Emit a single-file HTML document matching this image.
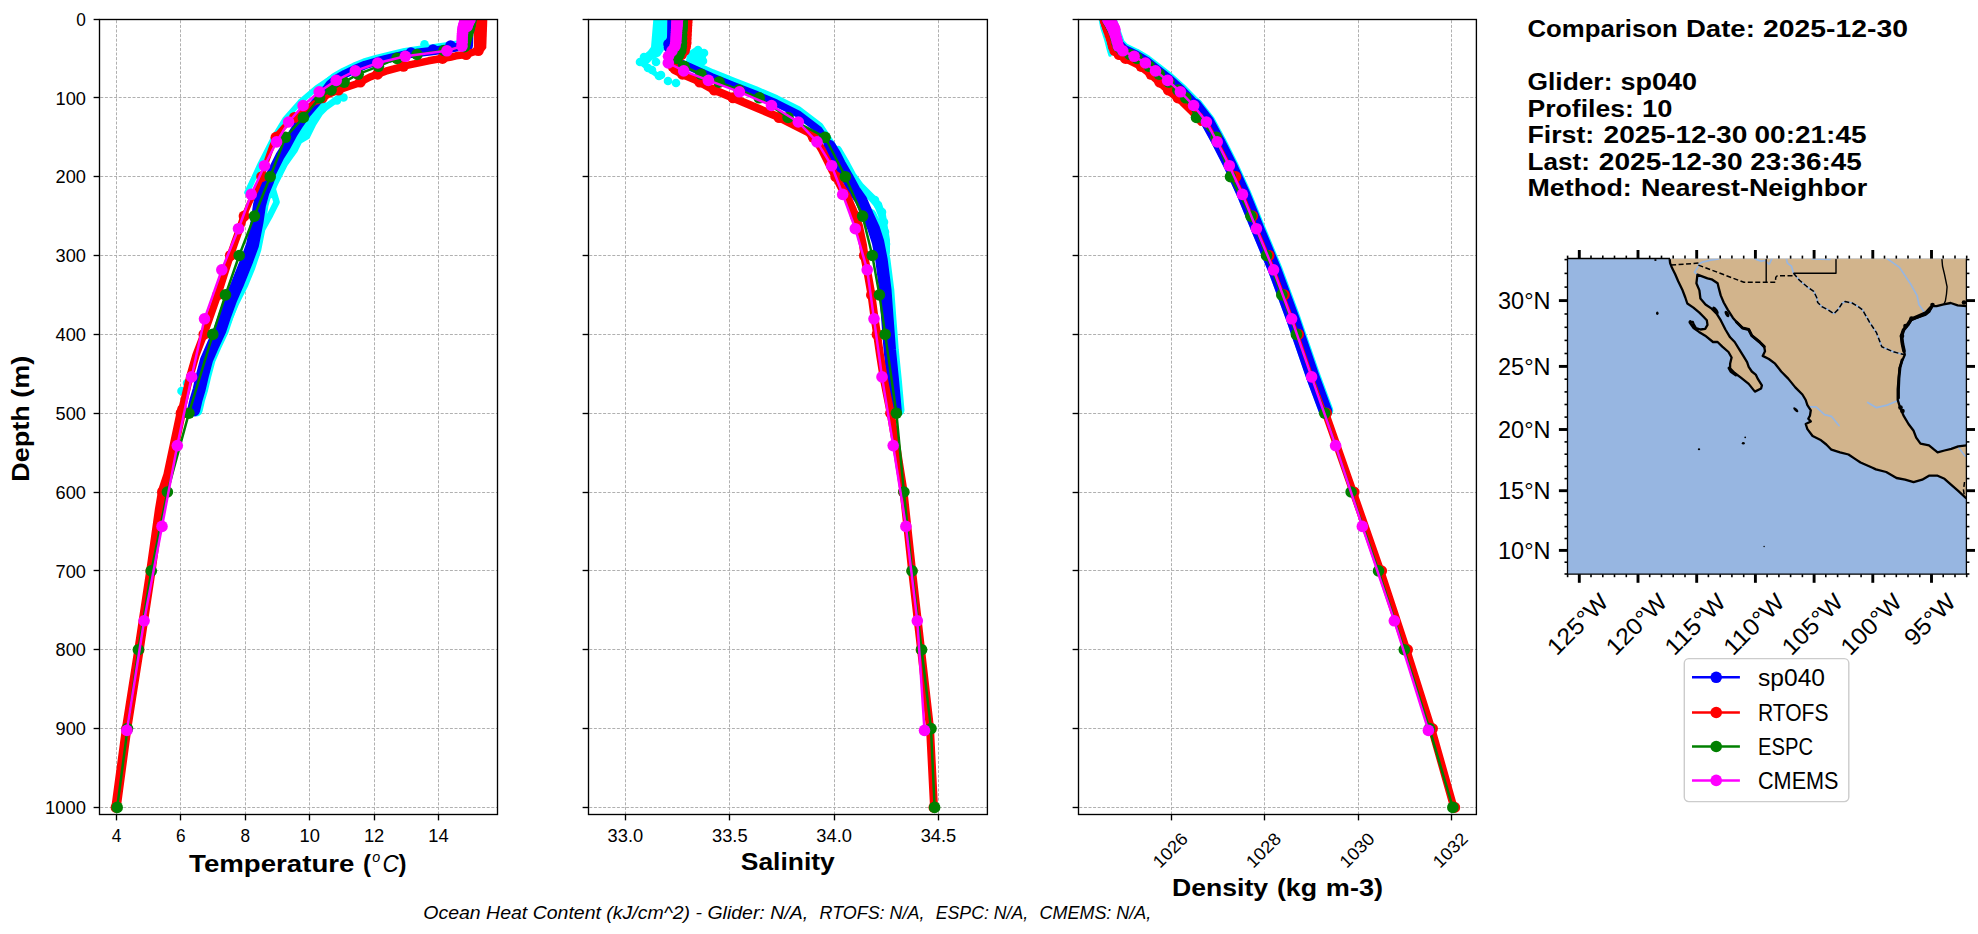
<!DOCTYPE html>
<html><head><meta charset="utf-8"><title>Glider comparison</title>
<style>html,body{margin:0;padding:0;background:#fff;overflow:hidden}svg{display:block}</style></head>
<body><svg width="1978" height="934" viewBox="0 0 1978 934"><defs><clipPath id="clip0"><rect x="99.5" y="19.5" width="398.0" height="795.0"/></clipPath><clipPath id="clip1"><rect x="588.5" y="19.5" width="398.9" height="795.0"/></clipPath><clipPath id="clip2"><rect x="1078.5" y="19.5" width="397.9" height="795.0"/></clipPath></defs>
<rect width="100%" height="100%" fill="#fff"/>
<line x1="116.5" y1="20.3" x2="116.5" y2="814.5" stroke="#b0b0b0" stroke-width="1" stroke-dasharray="3.0,1.6"/>
<line x1="180.5" y1="20.3" x2="180.5" y2="814.5" stroke="#b0b0b0" stroke-width="1" stroke-dasharray="3.0,1.6"/>
<line x1="245.5" y1="20.3" x2="245.5" y2="814.5" stroke="#b0b0b0" stroke-width="1" stroke-dasharray="3.0,1.6"/>
<line x1="309.5" y1="20.3" x2="309.5" y2="814.5" stroke="#b0b0b0" stroke-width="1" stroke-dasharray="3.0,1.6"/>
<line x1="374.5" y1="20.3" x2="374.5" y2="814.5" stroke="#b0b0b0" stroke-width="1" stroke-dasharray="3.0,1.6"/>
<line x1="438.5" y1="20.3" x2="438.5" y2="814.5" stroke="#b0b0b0" stroke-width="1" stroke-dasharray="3.0,1.6"/>
<line x1="100.3" y1="19.5" x2="497.5" y2="19.5" stroke="#b0b0b0" stroke-width="1" stroke-dasharray="3.0,1.6"/>
<line x1="100.3" y1="97.5" x2="497.5" y2="97.5" stroke="#b0b0b0" stroke-width="1" stroke-dasharray="3.0,1.6"/>
<line x1="100.3" y1="176.5" x2="497.5" y2="176.5" stroke="#b0b0b0" stroke-width="1" stroke-dasharray="3.0,1.6"/>
<line x1="100.3" y1="255.5" x2="497.5" y2="255.5" stroke="#b0b0b0" stroke-width="1" stroke-dasharray="3.0,1.6"/>
<line x1="100.3" y1="334.5" x2="497.5" y2="334.5" stroke="#b0b0b0" stroke-width="1" stroke-dasharray="3.0,1.6"/>
<line x1="100.3" y1="413.5" x2="497.5" y2="413.5" stroke="#b0b0b0" stroke-width="1" stroke-dasharray="3.0,1.6"/>
<line x1="100.3" y1="492.5" x2="497.5" y2="492.5" stroke="#b0b0b0" stroke-width="1" stroke-dasharray="3.0,1.6"/>
<line x1="100.3" y1="570.5" x2="497.5" y2="570.5" stroke="#b0b0b0" stroke-width="1" stroke-dasharray="3.0,1.6"/>
<line x1="100.3" y1="649.5" x2="497.5" y2="649.5" stroke="#b0b0b0" stroke-width="1" stroke-dasharray="3.0,1.6"/>
<line x1="100.3" y1="728.5" x2="497.5" y2="728.5" stroke="#b0b0b0" stroke-width="1" stroke-dasharray="3.0,1.6"/>
<line x1="100.3" y1="807.5" x2="497.5" y2="807.5" stroke="#b0b0b0" stroke-width="1" stroke-dasharray="3.0,1.6"/>
<line x1="625.5" y1="20.3" x2="625.5" y2="814.5" stroke="#b0b0b0" stroke-width="1" stroke-dasharray="3.0,1.6"/>
<line x1="729.5" y1="20.3" x2="729.5" y2="814.5" stroke="#b0b0b0" stroke-width="1" stroke-dasharray="3.0,1.6"/>
<line x1="834.5" y1="20.3" x2="834.5" y2="814.5" stroke="#b0b0b0" stroke-width="1" stroke-dasharray="3.0,1.6"/>
<line x1="938.5" y1="20.3" x2="938.5" y2="814.5" stroke="#b0b0b0" stroke-width="1" stroke-dasharray="3.0,1.6"/>
<line x1="589.3" y1="19.5" x2="987.4" y2="19.5" stroke="#b0b0b0" stroke-width="1" stroke-dasharray="3.0,1.6"/>
<line x1="589.3" y1="97.5" x2="987.4" y2="97.5" stroke="#b0b0b0" stroke-width="1" stroke-dasharray="3.0,1.6"/>
<line x1="589.3" y1="176.5" x2="987.4" y2="176.5" stroke="#b0b0b0" stroke-width="1" stroke-dasharray="3.0,1.6"/>
<line x1="589.3" y1="255.5" x2="987.4" y2="255.5" stroke="#b0b0b0" stroke-width="1" stroke-dasharray="3.0,1.6"/>
<line x1="589.3" y1="334.5" x2="987.4" y2="334.5" stroke="#b0b0b0" stroke-width="1" stroke-dasharray="3.0,1.6"/>
<line x1="589.3" y1="413.5" x2="987.4" y2="413.5" stroke="#b0b0b0" stroke-width="1" stroke-dasharray="3.0,1.6"/>
<line x1="589.3" y1="492.5" x2="987.4" y2="492.5" stroke="#b0b0b0" stroke-width="1" stroke-dasharray="3.0,1.6"/>
<line x1="589.3" y1="570.5" x2="987.4" y2="570.5" stroke="#b0b0b0" stroke-width="1" stroke-dasharray="3.0,1.6"/>
<line x1="589.3" y1="649.5" x2="987.4" y2="649.5" stroke="#b0b0b0" stroke-width="1" stroke-dasharray="3.0,1.6"/>
<line x1="589.3" y1="728.5" x2="987.4" y2="728.5" stroke="#b0b0b0" stroke-width="1" stroke-dasharray="3.0,1.6"/>
<line x1="589.3" y1="807.5" x2="987.4" y2="807.5" stroke="#b0b0b0" stroke-width="1" stroke-dasharray="3.0,1.6"/>
<line x1="1171.5" y1="20.3" x2="1171.5" y2="814.5" stroke="#b0b0b0" stroke-width="1" stroke-dasharray="3.0,1.6"/>
<line x1="1264.5" y1="20.3" x2="1264.5" y2="814.5" stroke="#b0b0b0" stroke-width="1" stroke-dasharray="3.0,1.6"/>
<line x1="1358.5" y1="20.3" x2="1358.5" y2="814.5" stroke="#b0b0b0" stroke-width="1" stroke-dasharray="3.0,1.6"/>
<line x1="1451.5" y1="20.3" x2="1451.5" y2="814.5" stroke="#b0b0b0" stroke-width="1" stroke-dasharray="3.0,1.6"/>
<line x1="1079.3" y1="19.5" x2="1476.4" y2="19.5" stroke="#b0b0b0" stroke-width="1" stroke-dasharray="3.0,1.6"/>
<line x1="1079.3" y1="97.5" x2="1476.4" y2="97.5" stroke="#b0b0b0" stroke-width="1" stroke-dasharray="3.0,1.6"/>
<line x1="1079.3" y1="176.5" x2="1476.4" y2="176.5" stroke="#b0b0b0" stroke-width="1" stroke-dasharray="3.0,1.6"/>
<line x1="1079.3" y1="255.5" x2="1476.4" y2="255.5" stroke="#b0b0b0" stroke-width="1" stroke-dasharray="3.0,1.6"/>
<line x1="1079.3" y1="334.5" x2="1476.4" y2="334.5" stroke="#b0b0b0" stroke-width="1" stroke-dasharray="3.0,1.6"/>
<line x1="1079.3" y1="413.5" x2="1476.4" y2="413.5" stroke="#b0b0b0" stroke-width="1" stroke-dasharray="3.0,1.6"/>
<line x1="1079.3" y1="492.5" x2="1476.4" y2="492.5" stroke="#b0b0b0" stroke-width="1" stroke-dasharray="3.0,1.6"/>
<line x1="1079.3" y1="570.5" x2="1476.4" y2="570.5" stroke="#b0b0b0" stroke-width="1" stroke-dasharray="3.0,1.6"/>
<line x1="1079.3" y1="649.5" x2="1476.4" y2="649.5" stroke="#b0b0b0" stroke-width="1" stroke-dasharray="3.0,1.6"/>
<line x1="1079.3" y1="728.5" x2="1476.4" y2="728.5" stroke="#b0b0b0" stroke-width="1" stroke-dasharray="3.0,1.6"/>
<line x1="1079.3" y1="807.5" x2="1476.4" y2="807.5" stroke="#b0b0b0" stroke-width="1" stroke-dasharray="3.0,1.6"/>
<g clip-path="url(#clip0)">
<polyline points="446.3,46.2 404.5,51.8 376.5,58.5 353.5,66.6 333.9,76.4 316.4,88.1 299.9,102.2 284.9,119.3 272.6,139.7 260.4,163.7 247.0,192.5" fill="none" stroke="#00ffff" stroke-width="5.50" stroke-linejoin="round" stroke-linecap="round" />
<polyline points="457.4,43.6 449.3,45.0 432.5,47.5 419.5,49.0 404.7,51.2 392.2,54.1 376.9,57.8 363.9,61.7 353.9,65.8 343.4,70.9 334.3,76.1 327.8,81.3" fill="none" stroke="#00ffff" stroke-width="6.50" stroke-linejoin="round" stroke-linecap="round" />
<polyline points="340.0,97.0 333.0,102.0 326.0,107.0 320.0,113.0 313.0,124.0 307.1,136.2 299.1,141.0 294.3,150.7 286.2,161.9 278.2,168.4 271.8,186.0 276.6,202.1 270.2,214.9 262.1,229.4 258.0,250.0 252.0,268.0 245.0,285.0 236.0,303.0 228.0,322.0 220.0,337.0 212.0,353.0 205.0,370.0 200.0,388.0 197.0,402.0 197.0,412.0" fill="none" stroke="#00ffff" stroke-width="6.50" stroke-linejoin="round" stroke-linecap="round" />
<polyline points="323.7,104.9 317.7,111.9 312.0,118.6 305.2,128.2 299.5,137.3 292.5,150.2 286.6,159.6 280.7,171.4 274.8,183.1 269.9,194.9" fill="none" stroke="#00ffff" stroke-width="7.00" stroke-linejoin="round" stroke-linecap="round" />
<polyline points="270.5,180.0 265.5,192.0 262.0,205.0 259.5,222.0 255.0,245.0 249.5,260.0 245.5,270.0 239.5,285.0 233.0,300.0 227.5,315.0 222.5,330.0 215.5,345.0 209.0,360.0 205.0,375.0 201.5,390.0 198.5,400.0 196.2,410.0" fill="none" stroke="#00ffff" stroke-width="13.00" stroke-linejoin="round" stroke-linecap="round" />
<circle cx="424.5" cy="44.3" r="4.30" fill="#00ffff"/>
<circle cx="181.5" cy="391.0" r="4.30" fill="#00ffff"/>
<circle cx="187.0" cy="383.0" r="4.30" fill="#00ffff"/>
<circle cx="343.5" cy="97.5" r="4.30" fill="#00ffff"/>
<circle cx="337.0" cy="100.5" r="4.30" fill="#00ffff"/>
<polyline points="468.0,19.4 468.0,44.0 458.0,47.0 449.9,48.5 433.0,51.0 420.0,52.5 405.3,54.6 393.0,57.5 377.8,61.2 365.0,65.0 355.3,69.0 345.0,74.0 336.2,79.0 330.0,84.0 325.0,91.0 318.0,100.0" fill="none" stroke="#0000ff" stroke-width="8.50" stroke-linejoin="round" stroke-linecap="round" />
<polyline points="325.0,91.0 318.0,100.0 312.0,107.0 306.0,114.0 299.0,124.0 293.0,133.5 286.0,146.4 280.0,156.0 274.0,168.0 268.0,180.0 263.0,192.0" fill="none" stroke="#0000ff" stroke-width="9.50" stroke-linejoin="round" stroke-linecap="round" />
<polyline points="268.0,180.0 263.0,192.0 259.5,205.0 257.0,222.0 252.5,245.0 247.0,260.0 243.0,270.0 237.0,285.0 230.5,300.0 225.0,315.0 220.0,330.0 213.0,345.0 206.5,360.0 202.5,375.0 199.0,390.0 196.0,400.0 193.7,410.0" fill="none" stroke="#0000ff" stroke-width="13.00" stroke-linejoin="round" stroke-linecap="round" />
<circle cx="450.5" cy="45.5" r="5.30" fill="#0000ff"/>
<circle cx="433.0" cy="49.5" r="5.30" fill="#0000ff"/>
<circle cx="411.0" cy="52.5" r="5.30" fill="#0000ff"/>
<polyline points="469.0,26.0 468.5,46.0" fill="none" stroke="#0000ff" stroke-width="9.00" stroke-linejoin="round" stroke-linecap="round" />
<polygon points="476.7,15.0 487.5,15.0 486.3,48.0 484.0,51.0 474.0,51.0 473.6,30.0" fill="#ff0000" />
<polyline points="481.5,19.4 481.5,47.0 480.0,50.0 472.0,52.5 466.0,54.5 456.0,55.8 449.9,57.3 440.0,58.8 428.5,60.8 407.0,65.3 385.7,71.2 370.0,77.0 357.6,83.5 338.4,90.0 327.8,94.5 318.0,100.5" fill="none" stroke="#ff0000" stroke-width="7.50" stroke-linejoin="round" stroke-linecap="round" />
<polyline points="327.8,94.5 318.0,100.5 308.0,107.0 299.0,114.0 290.0,121.0 283.0,128.0 277.0,135.0 272.0,146.0 267.0,160.0 262.0,176.0 256.0,190.0 250.0,202.0 244.5,215.0 240.0,228.0" fill="none" stroke="#ff0000" stroke-width="5.50" stroke-linejoin="round" stroke-linecap="round" />
<polyline points="244.5,215.0 240.0,228.0 235.0,242.0 229.5,258.0 224.0,275.0 218.0,294.0 211.0,314.0 204.0,334.0 196.0,355.0 190.0,376.0 182.0,409.0 175.0,442.0" fill="none" stroke="#ff0000" stroke-width="7.50" stroke-linejoin="round" stroke-linecap="round" />
<polyline points="182.0,409.0 175.0,442.0 168.0,475.0 162.7,491.0 159.7,508.7 151.1,569.6 139.2,648.5 126.8,727.3 116.1,807.0" fill="none" stroke="#ff0000" stroke-width="9.50" stroke-linejoin="round" stroke-linecap="round" />
<circle cx="478.3" cy="50.5" r="5.50" fill="#ff0000"/>
<circle cx="466.1" cy="54.5" r="5.50" fill="#ff0000"/>
<circle cx="442.5" cy="58.4" r="5.50" fill="#ff0000"/>
<circle cx="403.4" cy="66.3" r="5.50" fill="#ff0000"/>
<circle cx="377.6" cy="74.2" r="5.50" fill="#ff0000"/>
<circle cx="360.3" cy="82.1" r="5.50" fill="#ff0000"/>
<circle cx="338.5" cy="90.0" r="5.50" fill="#ff0000"/>
<circle cx="322.3" cy="97.8" r="5.50" fill="#ff0000"/>
<circle cx="294.4" cy="117.5" r="5.50" fill="#ff0000"/>
<circle cx="276.0" cy="137.3" r="5.50" fill="#ff0000"/>
<circle cx="261.7" cy="176.7" r="5.50" fill="#ff0000"/>
<circle cx="244.1" cy="216.1" r="5.50" fill="#ff0000"/>
<circle cx="230.4" cy="255.5" r="5.50" fill="#ff0000"/>
<circle cx="217.7" cy="294.9" r="5.50" fill="#ff0000"/>
<circle cx="203.9" cy="334.4" r="5.50" fill="#ff0000"/>
<circle cx="181.1" cy="413.2" r="5.50" fill="#ff0000"/>
<circle cx="162.5" cy="492.0" r="5.50" fill="#ff0000"/>
<circle cx="150.9" cy="570.9" r="5.50" fill="#ff0000"/>
<circle cx="139.0" cy="649.7" r="5.50" fill="#ff0000"/>
<circle cx="126.6" cy="728.6" r="5.50" fill="#ff0000"/>
<circle cx="116.1" cy="807.4" r="5.50" fill="#ff0000"/>
<polyline points="471.0,19.0 470.8,20.6 470.6,22.2 470.3,23.7 470.0,25.3 469.6,26.9 469.2,28.5 468.6,30.8 467.5,34.8 466.4,38.7 465.4,42.7 464.5,46.6 444.0,50.5 417.0,54.5 397.0,58.4 378.4,66.3 358.2,74.2 344.1,82.1 331.1,90.0 319.6,97.8 303.4,117.5 285.4,137.3 270.2,176.7 254.4,216.1 239.2,255.5 225.5,294.9 212.8,334.4 188.9,413.2 167.4,492.0 151.3,570.9 138.4,649.7 127.5,728.6 117.2,807.4" fill="none" stroke="#008000" stroke-width="2.50" stroke-linejoin="round" stroke-linecap="round" />
<circle cx="471.0" cy="19.0" r="5.80" fill="#008000"/>
<circle cx="470.8" cy="20.6" r="5.80" fill="#008000"/>
<circle cx="470.6" cy="22.2" r="5.80" fill="#008000"/>
<circle cx="470.3" cy="23.7" r="5.80" fill="#008000"/>
<circle cx="470.0" cy="25.3" r="5.80" fill="#008000"/>
<circle cx="469.6" cy="26.9" r="5.80" fill="#008000"/>
<circle cx="469.2" cy="28.5" r="5.80" fill="#008000"/>
<circle cx="468.6" cy="30.8" r="5.80" fill="#008000"/>
<circle cx="467.5" cy="34.8" r="5.80" fill="#008000"/>
<circle cx="466.4" cy="38.7" r="5.80" fill="#008000"/>
<circle cx="465.4" cy="42.7" r="5.80" fill="#008000"/>
<circle cx="464.5" cy="46.6" r="5.80" fill="#008000"/>
<circle cx="444.0" cy="50.5" r="5.80" fill="#008000"/>
<circle cx="417.0" cy="54.5" r="5.80" fill="#008000"/>
<circle cx="397.0" cy="58.4" r="5.80" fill="#008000"/>
<circle cx="378.4" cy="66.3" r="5.80" fill="#008000"/>
<circle cx="358.2" cy="74.2" r="5.80" fill="#008000"/>
<circle cx="344.1" cy="82.1" r="5.80" fill="#008000"/>
<circle cx="331.1" cy="90.0" r="5.80" fill="#008000"/>
<circle cx="319.6" cy="97.8" r="5.80" fill="#008000"/>
<circle cx="303.4" cy="117.5" r="5.80" fill="#008000"/>
<circle cx="285.4" cy="137.3" r="5.80" fill="#008000"/>
<circle cx="270.2" cy="176.7" r="5.80" fill="#008000"/>
<circle cx="254.4" cy="216.1" r="5.80" fill="#008000"/>
<circle cx="239.2" cy="255.5" r="5.80" fill="#008000"/>
<circle cx="225.5" cy="294.9" r="5.80" fill="#008000"/>
<circle cx="212.8" cy="334.4" r="5.80" fill="#008000"/>
<circle cx="188.9" cy="413.2" r="5.80" fill="#008000"/>
<circle cx="167.4" cy="492.0" r="5.80" fill="#008000"/>
<circle cx="151.3" cy="570.9" r="5.80" fill="#008000"/>
<circle cx="138.4" cy="649.7" r="5.80" fill="#008000"/>
<circle cx="127.5" cy="728.6" r="5.80" fill="#008000"/>
<circle cx="117.2" cy="807.4" r="5.80" fill="#008000"/>
<circle cx="470.0" cy="19.4" r="5.80" fill="#ff00ff"/>
<circle cx="469.5" cy="20.2" r="5.80" fill="#ff00ff"/>
<circle cx="469.0" cy="21.1" r="5.80" fill="#ff00ff"/>
<circle cx="468.5" cy="22.0" r="5.80" fill="#ff00ff"/>
<circle cx="468.1" cy="23.0" r="5.80" fill="#ff00ff"/>
<circle cx="467.7" cy="24.1" r="5.80" fill="#ff00ff"/>
<circle cx="467.3" cy="25.3" r="5.80" fill="#ff00ff"/>
<circle cx="467.0" cy="26.5" r="5.80" fill="#ff00ff"/>
<polyline points="466.5,19.4 466.0,20.2 465.5,21.1 465.0,22.0 464.6,23.0 464.2,24.1 463.8,25.3 463.5,26.5 463.2,28.0 462.9,29.6 462.7,31.5 462.5,33.6 462.3,36.0 462.2,38.9 462.1,42.2 462.0,46.1 446.9,50.8 405.3,56.3 377.8,63.0 355.3,70.9 336.2,80.4 319.2,91.8 303.1,105.5 288.6,122.0 276.6,141.9 264.5,165.7 251.2,194.4 238.5,228.7 221.8,269.8 204.5,318.8 191.6,376.9 177.3,445.6 162.0,526.4 144.1,620.8 126.9,730.4" fill="none" stroke="#ff00ff" stroke-width="2.50" stroke-linejoin="round" stroke-linecap="round" />
<circle cx="466.5" cy="19.4" r="5.80" fill="#ff00ff"/>
<circle cx="466.0" cy="20.2" r="5.80" fill="#ff00ff"/>
<circle cx="465.5" cy="21.1" r="5.80" fill="#ff00ff"/>
<circle cx="465.0" cy="22.0" r="5.80" fill="#ff00ff"/>
<circle cx="464.6" cy="23.0" r="5.80" fill="#ff00ff"/>
<circle cx="464.2" cy="24.1" r="5.80" fill="#ff00ff"/>
<circle cx="463.8" cy="25.3" r="5.80" fill="#ff00ff"/>
<circle cx="463.5" cy="26.5" r="5.80" fill="#ff00ff"/>
<circle cx="463.2" cy="28.0" r="5.80" fill="#ff00ff"/>
<circle cx="462.9" cy="29.6" r="5.80" fill="#ff00ff"/>
<circle cx="462.7" cy="31.5" r="5.80" fill="#ff00ff"/>
<circle cx="462.5" cy="33.6" r="5.80" fill="#ff00ff"/>
<circle cx="462.3" cy="36.0" r="5.80" fill="#ff00ff"/>
<circle cx="462.2" cy="38.9" r="5.80" fill="#ff00ff"/>
<circle cx="462.1" cy="42.2" r="5.80" fill="#ff00ff"/>
<circle cx="462.0" cy="46.1" r="5.80" fill="#ff00ff"/>
<circle cx="446.9" cy="50.8" r="5.80" fill="#ff00ff"/>
<circle cx="405.3" cy="56.3" r="5.80" fill="#ff00ff"/>
<circle cx="377.8" cy="63.0" r="5.80" fill="#ff00ff"/>
<circle cx="355.3" cy="70.9" r="5.80" fill="#ff00ff"/>
<circle cx="336.2" cy="80.4" r="5.80" fill="#ff00ff"/>
<circle cx="319.2" cy="91.8" r="5.80" fill="#ff00ff"/>
<circle cx="303.1" cy="105.5" r="5.80" fill="#ff00ff"/>
<circle cx="288.6" cy="122.0" r="5.80" fill="#ff00ff"/>
<circle cx="276.6" cy="141.9" r="5.80" fill="#ff00ff"/>
<circle cx="264.5" cy="165.7" r="5.80" fill="#ff00ff"/>
<circle cx="251.2" cy="194.4" r="5.80" fill="#ff00ff"/>
<circle cx="238.5" cy="228.7" r="5.80" fill="#ff00ff"/>
<circle cx="221.8" cy="269.8" r="5.80" fill="#ff00ff"/>
<circle cx="204.5" cy="318.8" r="5.80" fill="#ff00ff"/>
<circle cx="191.6" cy="376.9" r="5.80" fill="#ff00ff"/>
<circle cx="177.3" cy="445.6" r="5.80" fill="#ff00ff"/>
<circle cx="162.0" cy="526.4" r="5.80" fill="#ff00ff"/>
<circle cx="144.1" cy="620.8" r="5.80" fill="#ff00ff"/>
<circle cx="126.9" cy="730.4" r="5.80" fill="#ff00ff"/>
</g>
<g clip-path="url(#clip1)">
<polygon points="653.3,19.4 667.4,19.4 667.0,45.0 664.0,50.0 660.0,56.0 652.0,60.0 648.0,64.0 655.0,70.0 662.0,76.0 658.0,79.0 650.0,73.0 641.0,66.0 636.5,62.0 642.0,56.0 648.0,51.0 651.0,47.0" fill="#00ffff" />
<circle cx="659.0" cy="76.0" r="4.30" fill="#00ffff"/>
<circle cx="661.0" cy="75.0" r="4.30" fill="#00ffff"/>
<circle cx="648.0" cy="68.0" r="4.30" fill="#00ffff"/>
<circle cx="652.0" cy="70.0" r="4.30" fill="#00ffff"/>
<circle cx="640.0" cy="62.0" r="4.30" fill="#00ffff"/>
<circle cx="644.0" cy="57.0" r="4.30" fill="#00ffff"/>
<circle cx="656.0" cy="62.0" r="4.30" fill="#00ffff"/>
<circle cx="668.0" cy="81.0" r="4.30" fill="#00ffff"/>
<circle cx="676.0" cy="83.0" r="4.30" fill="#00ffff"/>
<polygon points="688.0,52.0 694.0,48.0 700.0,47.0 705.0,51.0 706.0,58.0 703.0,65.0 696.0,68.0 689.0,66.0 686.0,60.0" fill="#00ffff" />
<circle cx="698.0" cy="50.0" r="4.30" fill="#00ffff"/>
<circle cx="704.0" cy="53.0" r="4.30" fill="#00ffff"/>
<circle cx="703.0" cy="61.0" r="4.30" fill="#00ffff"/>
<circle cx="693.0" cy="64.0" r="4.30" fill="#00ffff"/>
<polyline points="690.0,63.5 712.0,73.5 733.0,82.0 755.0,90.5 776.0,99.5 798.0,110.5 819.0,126.5 829.5,142.5 835.0,151.5 839.5,160.5" fill="none" stroke="#00ffff" stroke-width="9.00" stroke-linejoin="round" stroke-linecap="round" />
<polyline points="838.0,150.0 845.0,162.0 852.0,175.0 860.0,186.0 866.0,192.0 872.0,198.0 878.0,205.0 882.0,215.0 884.0,228.0 886.0,240.0 886.0,252.0" fill="none" stroke="#00ffff" stroke-width="8.00" stroke-linejoin="round" stroke-linecap="round" />
<circle cx="878.0" cy="205.0" r="4.30" fill="#00ffff"/>
<circle cx="882.0" cy="212.0" r="4.30" fill="#00ffff"/>
<circle cx="884.0" cy="222.0" r="4.30" fill="#00ffff"/>
<circle cx="885.0" cy="232.0" r="4.30" fill="#00ffff"/>
<circle cx="886.0" cy="244.0" r="4.30" fill="#00ffff"/>
<circle cx="875.0" cy="200.0" r="4.30" fill="#00ffff"/>
<polyline points="870.0,215.0 876.0,228.0 880.5,242.0 884.0,260.0 887.8,290.0 890.0,320.0 892.3,350.0 895.3,380.0 898.0,410.0" fill="none" stroke="#00ffff" stroke-width="13.00" stroke-linejoin="round" stroke-linecap="round" />
<polyline points="671.8,15.0 671.5,38.0 668.5,46.0" fill="none" stroke="#0000ff" stroke-width="9.00" stroke-linejoin="round" stroke-linecap="round" />
<circle cx="668.5" cy="44.0" r="5.30" fill="#0000ff"/>
<circle cx="669.0" cy="47.5" r="5.30" fill="#0000ff"/>
<polyline points="673.0,19.4 672.0,40.0 670.0,47.0 671.0,55.0 676.0,61.0 690.0,67.0 712.0,77.0 733.0,85.5 755.0,94.0 776.0,103.0 798.0,114.0 819.0,130.0 829.5,146.0" fill="none" stroke="#0000ff" stroke-width="7.50" stroke-linejoin="round" stroke-linecap="round" />
<polyline points="829.5,146.0 835.0,155.0 839.5,164.0 847.0,177.0 854.0,190.0 861.0,200.0 867.5,215.0 873.5,228.0 878.0,242.0 881.5,260.0 885.3,290.0 887.5,320.0 889.8,350.0 892.8,380.0 895.5,410.0" fill="none" stroke="#0000ff" stroke-width="12.50" stroke-linejoin="round" stroke-linecap="round" />
<polyline points="687.0,19.4 686.0,45.0 684.0,52.0 678.0,58.0 672.0,64.0 674.0,70.0 683.0,74.5 696.0,80.0 712.0,89.0 731.0,97.0 744.0,102.5 776.0,116.0 808.5,132.5 816.0,140.0 822.0,150.0 827.0,160.0 832.0,170.0 836.0,177.0 841.0,187.0 847.0,196.0 853.0,210.0 859.0,226.0 863.0,245.0 865.0,260.0 868.0,275.0 871.4,294.5 874.0,314.0 877.0,334.0 880.0,355.0 883.4,376.4 887.0,395.0 890.6,413.0 897.0,450.0 903.5,491.0 912.0,570.0 921.0,649.0 930.0,728.0 934.0,807.0" fill="none" stroke="#ff0000" stroke-width="8.00" stroke-linejoin="round" stroke-linecap="round" />
<circle cx="687.0" cy="19.0" r="5.50" fill="#ff0000"/>
<circle cx="687.0" cy="20.6" r="5.50" fill="#ff0000"/>
<circle cx="686.9" cy="22.2" r="5.50" fill="#ff0000"/>
<circle cx="686.8" cy="23.7" r="5.50" fill="#ff0000"/>
<circle cx="686.8" cy="25.3" r="5.50" fill="#ff0000"/>
<circle cx="686.7" cy="26.9" r="5.50" fill="#ff0000"/>
<circle cx="686.6" cy="28.5" r="5.50" fill="#ff0000"/>
<circle cx="686.6" cy="30.8" r="5.50" fill="#ff0000"/>
<circle cx="686.4" cy="34.8" r="5.50" fill="#ff0000"/>
<circle cx="686.2" cy="38.7" r="5.50" fill="#ff0000"/>
<circle cx="686.1" cy="42.7" r="5.50" fill="#ff0000"/>
<circle cx="685.5" cy="46.6" r="5.50" fill="#ff0000"/>
<circle cx="684.4" cy="50.5" r="5.50" fill="#ff0000"/>
<circle cx="681.5" cy="54.5" r="5.50" fill="#ff0000"/>
<circle cx="677.6" cy="58.4" r="5.50" fill="#ff0000"/>
<circle cx="672.8" cy="66.3" r="5.50" fill="#ff0000"/>
<circle cx="682.4" cy="74.2" r="5.50" fill="#ff0000"/>
<circle cx="699.7" cy="82.1" r="5.50" fill="#ff0000"/>
<circle cx="714.3" cy="90.0" r="5.50" fill="#ff0000"/>
<circle cx="733.0" cy="97.8" r="5.50" fill="#ff0000"/>
<circle cx="779.1" cy="117.5" r="5.50" fill="#ff0000"/>
<circle cx="813.3" cy="137.3" r="5.50" fill="#ff0000"/>
<circle cx="835.8" cy="176.7" r="5.50" fill="#ff0000"/>
<circle cx="855.3" cy="216.1" r="5.50" fill="#ff0000"/>
<circle cx="864.4" cy="255.5" r="5.50" fill="#ff0000"/>
<circle cx="871.5" cy="294.9" r="5.50" fill="#ff0000"/>
<circle cx="877.1" cy="334.4" r="5.50" fill="#ff0000"/>
<circle cx="890.6" cy="413.2" r="5.50" fill="#ff0000"/>
<circle cx="903.6" cy="492.0" r="5.50" fill="#ff0000"/>
<circle cx="912.1" cy="570.9" r="5.50" fill="#ff0000"/>
<circle cx="921.1" cy="649.7" r="5.50" fill="#ff0000"/>
<circle cx="930.0" cy="728.6" r="5.50" fill="#ff0000"/>
<circle cx="934.0" cy="807.4" r="5.50" fill="#ff0000"/>
<polyline points="682.2,19.0 682.2,20.6 682.2,22.2 682.1,23.7 682.0,25.3 682.0,26.9 681.9,28.5 681.8,30.8 681.7,34.8 681.6,38.7 681.5,42.7 681.3,46.6 680.8,50.5 679.0,54.5 677.0,58.4 684.0,66.3 700.9,74.2 719.1,82.1 739.0,90.0 759.2,97.8 788.1,117.5 825.1,137.3 845.3,176.7 862.6,216.1 872.3,255.5 879.4,294.9 885.2,334.4 896.4,413.2 903.9,492.0 912.0,570.9 921.6,649.7 931.0,728.6 934.6,807.4" fill="none" stroke="#008000" stroke-width="2.50" stroke-linejoin="round" stroke-linecap="round" />
<circle cx="682.2" cy="19.0" r="5.80" fill="#008000"/>
<circle cx="682.2" cy="20.6" r="5.80" fill="#008000"/>
<circle cx="682.2" cy="22.2" r="5.80" fill="#008000"/>
<circle cx="682.1" cy="23.7" r="5.80" fill="#008000"/>
<circle cx="682.0" cy="25.3" r="5.80" fill="#008000"/>
<circle cx="682.0" cy="26.9" r="5.80" fill="#008000"/>
<circle cx="681.9" cy="28.5" r="5.80" fill="#008000"/>
<circle cx="681.8" cy="30.8" r="5.80" fill="#008000"/>
<circle cx="681.7" cy="34.8" r="5.80" fill="#008000"/>
<circle cx="681.6" cy="38.7" r="5.80" fill="#008000"/>
<circle cx="681.5" cy="42.7" r="5.80" fill="#008000"/>
<circle cx="681.3" cy="46.6" r="5.80" fill="#008000"/>
<circle cx="680.8" cy="50.5" r="5.80" fill="#008000"/>
<circle cx="679.0" cy="54.5" r="5.80" fill="#008000"/>
<circle cx="677.0" cy="58.4" r="5.80" fill="#008000"/>
<circle cx="684.0" cy="66.3" r="5.80" fill="#008000"/>
<circle cx="700.9" cy="74.2" r="5.80" fill="#008000"/>
<circle cx="719.1" cy="82.1" r="5.80" fill="#008000"/>
<circle cx="739.0" cy="90.0" r="5.80" fill="#008000"/>
<circle cx="759.2" cy="97.8" r="5.80" fill="#008000"/>
<circle cx="788.1" cy="117.5" r="5.80" fill="#008000"/>
<circle cx="825.1" cy="137.3" r="5.80" fill="#008000"/>
<circle cx="845.3" cy="176.7" r="5.80" fill="#008000"/>
<circle cx="862.6" cy="216.1" r="5.80" fill="#008000"/>
<circle cx="872.3" cy="255.5" r="5.80" fill="#008000"/>
<circle cx="879.4" cy="294.9" r="5.80" fill="#008000"/>
<circle cx="885.2" cy="334.4" r="5.80" fill="#008000"/>
<circle cx="896.4" cy="413.2" r="5.80" fill="#008000"/>
<circle cx="903.9" cy="492.0" r="5.80" fill="#008000"/>
<circle cx="912.0" cy="570.9" r="5.80" fill="#008000"/>
<circle cx="921.6" cy="649.7" r="5.80" fill="#008000"/>
<circle cx="931.0" cy="728.6" r="5.80" fill="#008000"/>
<circle cx="934.6" cy="807.4" r="5.80" fill="#008000"/>
<polyline points="677.4,19.4 677.4,20.2 677.3,21.1 677.2,22.0 677.1,23.0 677.0,24.1 676.9,25.3 676.8,26.5 676.7,28.0 676.6,29.6 676.5,31.5 676.4,33.6 676.2,36.0 676.0,38.9 675.8,42.2 675.0,46.1 672.0,50.8 668.5,56.3 668.3,63.0 683.7,70.9 708.4,80.4 739.4,91.8 771.5,105.5 798.3,122.0 817.0,141.9 831.6,165.7 842.7,194.4 855.3,228.7 867.2,269.8 874.0,318.8 882.0,376.9 893.2,445.6 905.9,526.4 917.3,620.8 924.5,730.4" fill="none" stroke="#ff00ff" stroke-width="2.50" stroke-linejoin="round" stroke-linecap="round" />
<circle cx="677.4" cy="19.4" r="5.80" fill="#ff00ff"/>
<circle cx="677.4" cy="20.2" r="5.80" fill="#ff00ff"/>
<circle cx="677.3" cy="21.1" r="5.80" fill="#ff00ff"/>
<circle cx="677.2" cy="22.0" r="5.80" fill="#ff00ff"/>
<circle cx="677.1" cy="23.0" r="5.80" fill="#ff00ff"/>
<circle cx="677.0" cy="24.1" r="5.80" fill="#ff00ff"/>
<circle cx="676.9" cy="25.3" r="5.80" fill="#ff00ff"/>
<circle cx="676.8" cy="26.5" r="5.80" fill="#ff00ff"/>
<circle cx="676.7" cy="28.0" r="5.80" fill="#ff00ff"/>
<circle cx="676.6" cy="29.6" r="5.80" fill="#ff00ff"/>
<circle cx="676.5" cy="31.5" r="5.80" fill="#ff00ff"/>
<circle cx="676.4" cy="33.6" r="5.80" fill="#ff00ff"/>
<circle cx="676.2" cy="36.0" r="5.80" fill="#ff00ff"/>
<circle cx="676.0" cy="38.9" r="5.80" fill="#ff00ff"/>
<circle cx="675.8" cy="42.2" r="5.80" fill="#ff00ff"/>
<circle cx="675.0" cy="46.1" r="5.80" fill="#ff00ff"/>
<circle cx="672.0" cy="50.8" r="5.80" fill="#ff00ff"/>
<circle cx="668.5" cy="56.3" r="5.80" fill="#ff00ff"/>
<circle cx="668.3" cy="63.0" r="5.80" fill="#ff00ff"/>
<circle cx="683.7" cy="70.9" r="5.80" fill="#ff00ff"/>
<circle cx="708.4" cy="80.4" r="5.80" fill="#ff00ff"/>
<circle cx="739.4" cy="91.8" r="5.80" fill="#ff00ff"/>
<circle cx="771.5" cy="105.5" r="5.80" fill="#ff00ff"/>
<circle cx="798.3" cy="122.0" r="5.80" fill="#ff00ff"/>
<circle cx="817.0" cy="141.9" r="5.80" fill="#ff00ff"/>
<circle cx="831.6" cy="165.7" r="5.80" fill="#ff00ff"/>
<circle cx="842.7" cy="194.4" r="5.80" fill="#ff00ff"/>
<circle cx="855.3" cy="228.7" r="5.80" fill="#ff00ff"/>
<circle cx="867.2" cy="269.8" r="5.80" fill="#ff00ff"/>
<circle cx="874.0" cy="318.8" r="5.80" fill="#ff00ff"/>
<circle cx="882.0" cy="376.9" r="5.80" fill="#ff00ff"/>
<circle cx="893.2" cy="445.6" r="5.80" fill="#ff00ff"/>
<circle cx="905.9" cy="526.4" r="5.80" fill="#ff00ff"/>
<circle cx="917.3" cy="620.8" r="5.80" fill="#ff00ff"/>
<circle cx="924.5" cy="730.4" r="5.80" fill="#ff00ff"/>
</g>
<g clip-path="url(#clip2)">
<polyline points="1111.3,17.8 1120.1,43.0 1124.6,47.7 1135.9,53.2 1147.2,59.9 1157.3,67.8 1169.4,77.3 1182.2,88.7 1195.4,102.4" fill="none" stroke="#00ffff" stroke-width="9.50" stroke-linejoin="round" stroke-linecap="round" />
<polyline points="1195.3,105.0 1208.1,121.5 1218.9,141.4 1231.0,165.2 1244.1,193.9 1258.1,228.2 1275.2,269.3 1293.3,318.3 1313.3,376.4 1326.0,410.5" fill="none" stroke="#00ffff" stroke-width="14.50" stroke-linejoin="round" stroke-linecap="round" />
<polyline points="1110.8,18.6 1119.6,43.8 1124.1,48.5 1135.4,54.0 1146.7,60.7 1156.8,68.6 1168.9,78.1 1181.7,89.5 1194.9,103.2" fill="none" stroke="#0000ff" stroke-width="8.00" stroke-linejoin="round" stroke-linecap="round" />
<polyline points="1194.8,105.5 1207.6,122.0 1218.4,141.9 1230.5,165.7 1243.6,194.4 1257.6,228.7 1274.7,269.8 1292.8,318.8 1312.8,376.9 1325.5,411.0" fill="none" stroke="#0000ff" stroke-width="13.50" stroke-linejoin="round" stroke-linecap="round" />
<polyline points="1099.5,15.0 1102.0,28.0 1105.5,38.6 1108.5,50.0 1110.0,55.0" fill="none" stroke="#00ffff" stroke-width="3.50" stroke-linejoin="round" stroke-linecap="round" />
<polyline points="1104.2,19.4 1107.0,28.0 1110.5,38.6 1113.5,50.0 1120.0,56.0 1130.0,61.0 1140.0,66.0 1149.0,73.0 1160.0,83.0 1170.0,92.0 1182.0,101.7 1193.0,112.5 1201.0,122.0" fill="none" stroke="#ff0000" stroke-width="7.50" stroke-linejoin="round" stroke-linecap="round" />
<polyline points="1201.0,122.0 1207.0,122.0 1217.8,141.9 1229.9,165.7 1243.0,194.4 1257.0,228.7 1274.1,269.8 1292.2,318.8 1312.2,376.9 1325.5,413.0" fill="none" stroke="#ff0000" stroke-width="3.00" stroke-linejoin="round" stroke-linecap="round" />
<polyline points="1325.5,413.0 1338.5,450.0 1353.0,491.5 1380.5,570.4 1406.5,649.4 1431.5,728.3 1453.8,807.2" fill="none" stroke="#ff0000" stroke-width="7.50" stroke-linejoin="round" stroke-linecap="round" />
<circle cx="1105.0" cy="19.0" r="5.60" fill="#ff0000"/>
<circle cx="1105.4" cy="20.6" r="5.60" fill="#ff0000"/>
<circle cx="1105.9" cy="22.2" r="5.60" fill="#ff0000"/>
<circle cx="1106.4" cy="23.7" r="5.60" fill="#ff0000"/>
<circle cx="1106.9" cy="25.3" r="5.60" fill="#ff0000"/>
<circle cx="1107.4" cy="26.9" r="5.60" fill="#ff0000"/>
<circle cx="1108.0" cy="28.5" r="5.60" fill="#ff0000"/>
<circle cx="1108.7" cy="30.8" r="5.60" fill="#ff0000"/>
<circle cx="1110.0" cy="34.8" r="5.60" fill="#ff0000"/>
<circle cx="1111.3" cy="38.7" r="5.60" fill="#ff0000"/>
<circle cx="1112.4" cy="42.7" r="5.60" fill="#ff0000"/>
<circle cx="1113.4" cy="46.6" r="5.60" fill="#ff0000"/>
<circle cx="1114.9" cy="50.5" r="5.60" fill="#ff0000"/>
<circle cx="1119.2" cy="54.5" r="5.60" fill="#ff0000"/>
<circle cx="1125.6" cy="58.4" r="5.60" fill="#ff0000"/>
<circle cx="1141.2" cy="66.3" r="5.60" fill="#ff0000"/>
<circle cx="1151.1" cy="74.2" r="5.60" fill="#ff0000"/>
<circle cx="1159.8" cy="82.1" r="5.60" fill="#ff0000"/>
<circle cx="1168.5" cy="90.0" r="5.60" fill="#ff0000"/>
<circle cx="1178.0" cy="97.8" r="5.60" fill="#ff0000"/>
<circle cx="1198.1" cy="117.5" r="5.60" fill="#ff0000"/>
<circle cx="1216.1" cy="137.3" r="5.60" fill="#ff0000"/>
<circle cx="1235.7" cy="176.7" r="5.60" fill="#ff0000"/>
<circle cx="1252.6" cy="216.1" r="5.60" fill="#ff0000"/>
<circle cx="1268.9" cy="255.5" r="5.60" fill="#ff0000"/>
<circle cx="1284.2" cy="294.9" r="5.60" fill="#ff0000"/>
<circle cx="1298.4" cy="334.4" r="5.60" fill="#ff0000"/>
<circle cx="1326.4" cy="413.2" r="5.60" fill="#ff0000"/>
<circle cx="1354.0" cy="492.0" r="5.60" fill="#ff0000"/>
<circle cx="1381.5" cy="570.9" r="5.60" fill="#ff0000"/>
<circle cx="1407.4" cy="649.7" r="5.60" fill="#ff0000"/>
<circle cx="1432.4" cy="728.6" r="5.60" fill="#ff0000"/>
<circle cx="1454.6" cy="807.4" r="5.60" fill="#ff0000"/>
<polyline points="1107.3,19.0 1108.0,20.6 1109.0,22.2 1109.9,23.7 1110.7,25.3 1111.6,26.9 1112.3,28.5 1113.3,30.8 1114.8,34.8 1116.0,38.7 1116.9,42.7 1118.2,46.6 1122.0,50.5 1129.8,54.5 1137.1,58.4 1149.2,66.3 1159.2,74.2 1169.0,82.1 1177.8,90.0 1185.7,97.8 1196.5,117.5 1216.3,137.3 1230.5,176.7 1250.9,216.1 1266.5,255.5 1281.8,294.9 1296.4,334.4 1324.7,413.2 1351.1,492.0 1378.5,570.9 1404.3,649.7 1429.4,728.6 1452.8,807.4" fill="none" stroke="#008000" stroke-width="2.50" stroke-linejoin="round" stroke-linecap="round" />
<circle cx="1107.3" cy="19.0" r="5.80" fill="#008000"/>
<circle cx="1108.0" cy="20.6" r="5.80" fill="#008000"/>
<circle cx="1109.0" cy="22.2" r="5.80" fill="#008000"/>
<circle cx="1109.9" cy="23.7" r="5.80" fill="#008000"/>
<circle cx="1110.7" cy="25.3" r="5.80" fill="#008000"/>
<circle cx="1111.6" cy="26.9" r="5.80" fill="#008000"/>
<circle cx="1112.3" cy="28.5" r="5.80" fill="#008000"/>
<circle cx="1113.3" cy="30.8" r="5.80" fill="#008000"/>
<circle cx="1114.8" cy="34.8" r="5.80" fill="#008000"/>
<circle cx="1116.0" cy="38.7" r="5.80" fill="#008000"/>
<circle cx="1116.9" cy="42.7" r="5.80" fill="#008000"/>
<circle cx="1118.2" cy="46.6" r="5.80" fill="#008000"/>
<circle cx="1122.0" cy="50.5" r="5.80" fill="#008000"/>
<circle cx="1129.8" cy="54.5" r="5.80" fill="#008000"/>
<circle cx="1137.1" cy="58.4" r="5.80" fill="#008000"/>
<circle cx="1149.2" cy="66.3" r="5.80" fill="#008000"/>
<circle cx="1159.2" cy="74.2" r="5.80" fill="#008000"/>
<circle cx="1169.0" cy="82.1" r="5.80" fill="#008000"/>
<circle cx="1177.8" cy="90.0" r="5.80" fill="#008000"/>
<circle cx="1185.7" cy="97.8" r="5.80" fill="#008000"/>
<circle cx="1196.5" cy="117.5" r="5.80" fill="#008000"/>
<circle cx="1216.3" cy="137.3" r="5.80" fill="#008000"/>
<circle cx="1230.5" cy="176.7" r="5.80" fill="#008000"/>
<circle cx="1250.9" cy="216.1" r="5.80" fill="#008000"/>
<circle cx="1266.5" cy="255.5" r="5.80" fill="#008000"/>
<circle cx="1281.8" cy="294.9" r="5.80" fill="#008000"/>
<circle cx="1296.4" cy="334.4" r="5.80" fill="#008000"/>
<circle cx="1324.7" cy="413.2" r="5.80" fill="#008000"/>
<circle cx="1351.1" cy="492.0" r="5.80" fill="#008000"/>
<circle cx="1378.5" cy="570.9" r="5.80" fill="#008000"/>
<circle cx="1404.3" cy="649.7" r="5.80" fill="#008000"/>
<circle cx="1429.4" cy="728.6" r="5.80" fill="#008000"/>
<circle cx="1452.8" cy="807.4" r="5.80" fill="#008000"/>
<circle cx="1109.4" cy="19.4" r="5.80" fill="#ff00ff"/>
<circle cx="1109.9" cy="20.2" r="5.80" fill="#ff00ff"/>
<circle cx="1110.4" cy="21.1" r="5.80" fill="#ff00ff"/>
<circle cx="1111.0" cy="22.0" r="5.80" fill="#ff00ff"/>
<circle cx="1111.6" cy="23.0" r="5.80" fill="#ff00ff"/>
<circle cx="1112.2" cy="24.1" r="5.80" fill="#ff00ff"/>
<circle cx="1112.8" cy="25.3" r="5.80" fill="#ff00ff"/>
<circle cx="1113.5" cy="26.5" r="5.80" fill="#ff00ff"/>
<circle cx="1114.2" cy="28.0" r="5.80" fill="#ff00ff"/>
<circle cx="1114.9" cy="29.6" r="5.80" fill="#ff00ff"/>
<polyline points="1107.8,19.4 1108.3,20.2 1108.8,21.1 1109.4,22.0 1110.0,23.0 1110.6,24.1 1111.2,25.3 1111.9,26.5 1112.6,28.0 1113.3,29.6 1114.1,31.5 1114.9,33.6 1115.7,36.0 1116.5,38.9 1117.3,42.2 1118.3,46.1 1122.8,50.8 1134.1,56.3 1145.4,63.0 1155.5,70.9 1167.6,80.4 1180.4,91.8 1193.6,105.5 1206.4,122.0 1217.2,141.9 1229.3,165.7 1242.4,194.4 1256.4,228.7 1273.5,269.8 1291.6,318.8 1311.6,376.9 1335.6,445.6 1362.3,526.4 1394.3,620.8 1428.4,730.4" fill="none" stroke="#ff00ff" stroke-width="2.50" stroke-linejoin="round" stroke-linecap="round" />
<circle cx="1107.8" cy="19.4" r="5.80" fill="#ff00ff"/>
<circle cx="1108.3" cy="20.2" r="5.80" fill="#ff00ff"/>
<circle cx="1108.8" cy="21.1" r="5.80" fill="#ff00ff"/>
<circle cx="1109.4" cy="22.0" r="5.80" fill="#ff00ff"/>
<circle cx="1110.0" cy="23.0" r="5.80" fill="#ff00ff"/>
<circle cx="1110.6" cy="24.1" r="5.80" fill="#ff00ff"/>
<circle cx="1111.2" cy="25.3" r="5.80" fill="#ff00ff"/>
<circle cx="1111.9" cy="26.5" r="5.80" fill="#ff00ff"/>
<circle cx="1112.6" cy="28.0" r="5.80" fill="#ff00ff"/>
<circle cx="1113.3" cy="29.6" r="5.80" fill="#ff00ff"/>
<circle cx="1114.1" cy="31.5" r="5.80" fill="#ff00ff"/>
<circle cx="1114.9" cy="33.6" r="5.80" fill="#ff00ff"/>
<circle cx="1115.7" cy="36.0" r="5.80" fill="#ff00ff"/>
<circle cx="1116.5" cy="38.9" r="5.80" fill="#ff00ff"/>
<circle cx="1117.3" cy="42.2" r="5.80" fill="#ff00ff"/>
<circle cx="1118.3" cy="46.1" r="5.80" fill="#ff00ff"/>
<circle cx="1122.8" cy="50.8" r="5.80" fill="#ff00ff"/>
<circle cx="1134.1" cy="56.3" r="5.80" fill="#ff00ff"/>
<circle cx="1145.4" cy="63.0" r="5.80" fill="#ff00ff"/>
<circle cx="1155.5" cy="70.9" r="5.80" fill="#ff00ff"/>
<circle cx="1167.6" cy="80.4" r="5.80" fill="#ff00ff"/>
<circle cx="1180.4" cy="91.8" r="5.80" fill="#ff00ff"/>
<circle cx="1193.6" cy="105.5" r="5.80" fill="#ff00ff"/>
<circle cx="1206.4" cy="122.0" r="5.80" fill="#ff00ff"/>
<circle cx="1217.2" cy="141.9" r="5.80" fill="#ff00ff"/>
<circle cx="1229.3" cy="165.7" r="5.80" fill="#ff00ff"/>
<circle cx="1242.4" cy="194.4" r="5.80" fill="#ff00ff"/>
<circle cx="1256.4" cy="228.7" r="5.80" fill="#ff00ff"/>
<circle cx="1273.5" cy="269.8" r="5.80" fill="#ff00ff"/>
<circle cx="1291.6" cy="318.8" r="5.80" fill="#ff00ff"/>
<circle cx="1311.6" cy="376.9" r="5.80" fill="#ff00ff"/>
<circle cx="1335.6" cy="445.6" r="5.80" fill="#ff00ff"/>
<circle cx="1362.3" cy="526.4" r="5.80" fill="#ff00ff"/>
<circle cx="1394.3" cy="620.8" r="5.80" fill="#ff00ff"/>
<circle cx="1428.4" cy="730.4" r="5.80" fill="#ff00ff"/>
</g>
<rect x="99.5" y="19.5" width="398.0" height="795.0" fill="none" stroke="#000" stroke-width="1.35"/>
<line x1="116.5" y1="814.5" x2="116.5" y2="820.4" stroke="#000" stroke-width="1.35"/>
<line x1="180.5" y1="814.5" x2="180.5" y2="820.4" stroke="#000" stroke-width="1.35"/>
<line x1="245.5" y1="814.5" x2="245.5" y2="820.4" stroke="#000" stroke-width="1.35"/>
<line x1="309.5" y1="814.5" x2="309.5" y2="820.4" stroke="#000" stroke-width="1.35"/>
<line x1="374.5" y1="814.5" x2="374.5" y2="820.4" stroke="#000" stroke-width="1.35"/>
<line x1="438.5" y1="814.5" x2="438.5" y2="820.4" stroke="#000" stroke-width="1.35"/>
<line x1="93.6" y1="19.5" x2="99.5" y2="19.5" stroke="#000" stroke-width="1.35"/>
<line x1="93.6" y1="97.5" x2="99.5" y2="97.5" stroke="#000" stroke-width="1.35"/>
<line x1="93.6" y1="176.5" x2="99.5" y2="176.5" stroke="#000" stroke-width="1.35"/>
<line x1="93.6" y1="255.5" x2="99.5" y2="255.5" stroke="#000" stroke-width="1.35"/>
<line x1="93.6" y1="334.5" x2="99.5" y2="334.5" stroke="#000" stroke-width="1.35"/>
<line x1="93.6" y1="413.5" x2="99.5" y2="413.5" stroke="#000" stroke-width="1.35"/>
<line x1="93.6" y1="492.5" x2="99.5" y2="492.5" stroke="#000" stroke-width="1.35"/>
<line x1="93.6" y1="570.5" x2="99.5" y2="570.5" stroke="#000" stroke-width="1.35"/>
<line x1="93.6" y1="649.5" x2="99.5" y2="649.5" stroke="#000" stroke-width="1.35"/>
<line x1="93.6" y1="728.5" x2="99.5" y2="728.5" stroke="#000" stroke-width="1.35"/>
<line x1="93.6" y1="807.5" x2="99.5" y2="807.5" stroke="#000" stroke-width="1.35"/>
<rect x="588.5" y="19.5" width="398.9" height="795.0" fill="none" stroke="#000" stroke-width="1.35"/>
<line x1="625.5" y1="814.5" x2="625.5" y2="820.4" stroke="#000" stroke-width="1.35"/>
<line x1="729.5" y1="814.5" x2="729.5" y2="820.4" stroke="#000" stroke-width="1.35"/>
<line x1="834.5" y1="814.5" x2="834.5" y2="820.4" stroke="#000" stroke-width="1.35"/>
<line x1="938.5" y1="814.5" x2="938.5" y2="820.4" stroke="#000" stroke-width="1.35"/>
<line x1="582.6" y1="19.5" x2="588.5" y2="19.5" stroke="#000" stroke-width="1.35"/>
<line x1="582.6" y1="97.5" x2="588.5" y2="97.5" stroke="#000" stroke-width="1.35"/>
<line x1="582.6" y1="176.5" x2="588.5" y2="176.5" stroke="#000" stroke-width="1.35"/>
<line x1="582.6" y1="255.5" x2="588.5" y2="255.5" stroke="#000" stroke-width="1.35"/>
<line x1="582.6" y1="334.5" x2="588.5" y2="334.5" stroke="#000" stroke-width="1.35"/>
<line x1="582.6" y1="413.5" x2="588.5" y2="413.5" stroke="#000" stroke-width="1.35"/>
<line x1="582.6" y1="492.5" x2="588.5" y2="492.5" stroke="#000" stroke-width="1.35"/>
<line x1="582.6" y1="570.5" x2="588.5" y2="570.5" stroke="#000" stroke-width="1.35"/>
<line x1="582.6" y1="649.5" x2="588.5" y2="649.5" stroke="#000" stroke-width="1.35"/>
<line x1="582.6" y1="728.5" x2="588.5" y2="728.5" stroke="#000" stroke-width="1.35"/>
<line x1="582.6" y1="807.5" x2="588.5" y2="807.5" stroke="#000" stroke-width="1.35"/>
<rect x="1078.5" y="19.5" width="397.9" height="795.0" fill="none" stroke="#000" stroke-width="1.35"/>
<line x1="1171.5" y1="814.5" x2="1171.5" y2="820.4" stroke="#000" stroke-width="1.35"/>
<line x1="1264.5" y1="814.5" x2="1264.5" y2="820.4" stroke="#000" stroke-width="1.35"/>
<line x1="1358.5" y1="814.5" x2="1358.5" y2="820.4" stroke="#000" stroke-width="1.35"/>
<line x1="1451.5" y1="814.5" x2="1451.5" y2="820.4" stroke="#000" stroke-width="1.35"/>
<line x1="1072.6" y1="19.5" x2="1078.5" y2="19.5" stroke="#000" stroke-width="1.35"/>
<line x1="1072.6" y1="97.5" x2="1078.5" y2="97.5" stroke="#000" stroke-width="1.35"/>
<line x1="1072.6" y1="176.5" x2="1078.5" y2="176.5" stroke="#000" stroke-width="1.35"/>
<line x1="1072.6" y1="255.5" x2="1078.5" y2="255.5" stroke="#000" stroke-width="1.35"/>
<line x1="1072.6" y1="334.5" x2="1078.5" y2="334.5" stroke="#000" stroke-width="1.35"/>
<line x1="1072.6" y1="413.5" x2="1078.5" y2="413.5" stroke="#000" stroke-width="1.35"/>
<line x1="1072.6" y1="492.5" x2="1078.5" y2="492.5" stroke="#000" stroke-width="1.35"/>
<line x1="1072.6" y1="570.5" x2="1078.5" y2="570.5" stroke="#000" stroke-width="1.35"/>
<line x1="1072.6" y1="649.5" x2="1078.5" y2="649.5" stroke="#000" stroke-width="1.35"/>
<line x1="1072.6" y1="728.5" x2="1078.5" y2="728.5" stroke="#000" stroke-width="1.35"/>
<line x1="1072.6" y1="807.5" x2="1078.5" y2="807.5" stroke="#000" stroke-width="1.35"/>
<text x="85.9" y="25.7" font-family="Liberation Sans" font-size="17.60" text-anchor="end" font-weight="normal" font-style="normal" textLength="9.6" lengthAdjust="spacingAndGlyphs" >0</text>
<text x="85.9" y="104.5" font-family="Liberation Sans" font-size="17.60" text-anchor="end" font-weight="normal" font-style="normal" textLength="30.4" lengthAdjust="spacingAndGlyphs" >100</text>
<text x="85.9" y="183.4" font-family="Liberation Sans" font-size="17.60" text-anchor="end" font-weight="normal" font-style="normal" textLength="30.4" lengthAdjust="spacingAndGlyphs" >200</text>
<text x="85.9" y="262.2" font-family="Liberation Sans" font-size="17.60" text-anchor="end" font-weight="normal" font-style="normal" textLength="30.4" lengthAdjust="spacingAndGlyphs" >300</text>
<text x="85.9" y="341.1" font-family="Liberation Sans" font-size="17.60" text-anchor="end" font-weight="normal" font-style="normal" textLength="30.4" lengthAdjust="spacingAndGlyphs" >400</text>
<text x="85.9" y="419.9" font-family="Liberation Sans" font-size="17.60" text-anchor="end" font-weight="normal" font-style="normal" textLength="30.4" lengthAdjust="spacingAndGlyphs" >500</text>
<text x="85.9" y="498.7" font-family="Liberation Sans" font-size="17.60" text-anchor="end" font-weight="normal" font-style="normal" textLength="30.4" lengthAdjust="spacingAndGlyphs" >600</text>
<text x="85.9" y="577.6" font-family="Liberation Sans" font-size="17.60" text-anchor="end" font-weight="normal" font-style="normal" textLength="30.4" lengthAdjust="spacingAndGlyphs" >700</text>
<text x="85.9" y="656.4" font-family="Liberation Sans" font-size="17.60" text-anchor="end" font-weight="normal" font-style="normal" textLength="30.4" lengthAdjust="spacingAndGlyphs" >800</text>
<text x="85.9" y="735.3" font-family="Liberation Sans" font-size="17.60" text-anchor="end" font-weight="normal" font-style="normal" textLength="30.4" lengthAdjust="spacingAndGlyphs" >900</text>
<text x="85.9" y="814.1" font-family="Liberation Sans" font-size="17.60" text-anchor="end" font-weight="normal" font-style="normal" textLength="41.0" lengthAdjust="spacingAndGlyphs" >1000</text>
<text x="116.5" y="841.6" font-family="Liberation Sans" font-size="17.60" text-anchor="middle" font-weight="normal" font-style="normal" textLength="9.6" lengthAdjust="spacingAndGlyphs" >4</text>
<text x="180.9" y="841.6" font-family="Liberation Sans" font-size="17.60" text-anchor="middle" font-weight="normal" font-style="normal" textLength="9.6" lengthAdjust="spacingAndGlyphs" >6</text>
<text x="245.2" y="841.6" font-family="Liberation Sans" font-size="17.60" text-anchor="middle" font-weight="normal" font-style="normal" textLength="9.6" lengthAdjust="spacingAndGlyphs" >8</text>
<text x="309.7" y="841.6" font-family="Liberation Sans" font-size="17.60" text-anchor="middle" font-weight="normal" font-style="normal" textLength="20.4" lengthAdjust="spacingAndGlyphs" >10</text>
<text x="374.1" y="841.6" font-family="Liberation Sans" font-size="17.60" text-anchor="middle" font-weight="normal" font-style="normal" textLength="20.4" lengthAdjust="spacingAndGlyphs" >12</text>
<text x="438.4" y="841.6" font-family="Liberation Sans" font-size="17.60" text-anchor="middle" font-weight="normal" font-style="normal" textLength="20.4" lengthAdjust="spacingAndGlyphs" >14</text>
<text x="625.4" y="841.6" font-family="Liberation Sans" font-size="17.60" text-anchor="middle" font-weight="normal" font-style="normal" textLength="35.6" lengthAdjust="spacingAndGlyphs" >33.0</text>
<text x="729.8" y="841.6" font-family="Liberation Sans" font-size="17.60" text-anchor="middle" font-weight="normal" font-style="normal" textLength="35.6" lengthAdjust="spacingAndGlyphs" >33.5</text>
<text x="834.1" y="841.6" font-family="Liberation Sans" font-size="17.60" text-anchor="middle" font-weight="normal" font-style="normal" textLength="35.6" lengthAdjust="spacingAndGlyphs" >34.0</text>
<text x="938.5" y="841.6" font-family="Liberation Sans" font-size="17.60" text-anchor="middle" font-weight="normal" font-style="normal" textLength="35.6" lengthAdjust="spacingAndGlyphs" >34.5</text>
<text x="0" y="0" font-family="Liberation Sans" font-size="17.60" text-anchor="middle" textLength="41.0" lengthAdjust="spacingAndGlyphs" transform="translate(1170.0,850.0) rotate(-45) translate(0,6.2)">1026</text>
<text x="0" y="0" font-family="Liberation Sans" font-size="17.60" text-anchor="middle" textLength="41.0" lengthAdjust="spacingAndGlyphs" transform="translate(1263.4,850.0) rotate(-45) translate(0,6.2)">1028</text>
<text x="0" y="0" font-family="Liberation Sans" font-size="17.60" text-anchor="middle" textLength="41.0" lengthAdjust="spacingAndGlyphs" transform="translate(1356.8,850.0) rotate(-45) translate(0,6.2)">1030</text>
<text x="0" y="0" font-family="Liberation Sans" font-size="17.60" text-anchor="middle" textLength="41.0" lengthAdjust="spacingAndGlyphs" transform="translate(1450.2,850.0) rotate(-45) translate(0,6.2)">1032</text>
<text x="189.1" y="871.7" font-family="Liberation Sans" font-size="24.00" text-anchor="start" font-weight="bold" font-style="normal" textLength="165.3" lengthAdjust="spacingAndGlyphs" >Temperature</text>
<text x="363.0" y="871.7" font-family="Liberation Sans" font-size="24.00" text-anchor="start" font-weight="bold" font-style="normal" >(</text>
<text x="372.3" y="861.6" font-family="Liberation Sans" font-size="15" font-style="italic" textLength="8" lengthAdjust="spacingAndGlyphs">o</text>
<text x="382.6" y="871.7" font-family="Liberation Sans" font-size="23.5" font-style="italic" textLength="16.2" lengthAdjust="spacingAndGlyphs">C</text>
<text x="398.6" y="871.7" font-family="Liberation Sans" font-size="24.00" text-anchor="start" font-weight="bold" font-style="normal" >)</text>
<text x="740.8" y="870.2" font-family="Liberation Sans" font-size="24.00" text-anchor="start" font-weight="bold" font-style="normal" textLength="94.0" lengthAdjust="spacingAndGlyphs" >Salinity</text>
<text x="1172.0" y="896.1" font-family="Liberation Sans" font-size="24.00" text-anchor="start" font-weight="bold" font-style="normal" textLength="96.1" lengthAdjust="spacingAndGlyphs" >Density</text>
<text x="1276.9" y="896.1" font-family="Liberation Sans" font-size="24.00" text-anchor="start" font-weight="bold" font-style="normal" textLength="40.1" lengthAdjust="spacingAndGlyphs" >(kg</text>
<text x="1325.8" y="896.1" font-family="Liberation Sans" font-size="24.00" text-anchor="start" font-weight="bold" font-style="normal" textLength="57.2" lengthAdjust="spacingAndGlyphs" >m-3)</text>
<text x="0" y="0" font-family="Liberation Sans" font-size="24" font-weight="bold" textLength="126" lengthAdjust="spacingAndGlyphs" transform="translate(28.9,481.8) rotate(-90)">Depth (m)</text>
<text x="423.3" y="918.8" font-family="Liberation Sans" font-size="18.50" text-anchor="start" font-weight="normal" font-style="italic" textLength="384.8" lengthAdjust="spacingAndGlyphs" >Ocean Heat Content (kJ/cm^2) - Glider: N/A,</text>
<text x="819.6" y="918.8" font-family="Liberation Sans" font-size="18.50" text-anchor="start" font-weight="normal" font-style="italic" textLength="104.8" lengthAdjust="spacingAndGlyphs" >RTOFS: N/A,</text>
<text x="935.8" y="918.8" font-family="Liberation Sans" font-size="18.50" text-anchor="start" font-weight="normal" font-style="italic" textLength="92.3" lengthAdjust="spacingAndGlyphs" >ESPC: N/A,</text>
<text x="1039.6" y="918.8" font-family="Liberation Sans" font-size="18.50" text-anchor="start" font-weight="normal" font-style="italic" textLength="111.6" lengthAdjust="spacingAndGlyphs" >CMEMS: N/A,</text>
<text x="1527.5" y="36.8" font-family="Liberation Sans" font-size="23.50" text-anchor="start" font-weight="bold" font-style="normal" textLength="150.2" lengthAdjust="spacingAndGlyphs" >Comparison</text>
<text x="1686.0" y="36.8" font-family="Liberation Sans" font-size="23.50" text-anchor="start" font-weight="bold" font-style="normal" textLength="68.8" lengthAdjust="spacingAndGlyphs" >Date:</text>
<text x="1763.0" y="36.8" font-family="Liberation Sans" font-size="23.50" text-anchor="start" font-weight="bold" font-style="normal" textLength="144.9" lengthAdjust="spacingAndGlyphs" >2025-12-30</text>
<text x="1527.5" y="89.9" font-family="Liberation Sans" font-size="23.50" text-anchor="start" font-weight="bold" font-style="normal" textLength="84.9" lengthAdjust="spacingAndGlyphs" >Glider:</text>
<text x="1620.6" y="89.9" font-family="Liberation Sans" font-size="23.50" text-anchor="start" font-weight="bold" font-style="normal" textLength="76.4" lengthAdjust="spacingAndGlyphs" >sp040</text>
<text x="1527.5" y="116.5" font-family="Liberation Sans" font-size="23.50" text-anchor="start" font-weight="bold" font-style="normal" textLength="106.3" lengthAdjust="spacingAndGlyphs" >Profiles:</text>
<text x="1642.1" y="116.5" font-family="Liberation Sans" font-size="23.50" text-anchor="start" font-weight="bold" font-style="normal" textLength="30.3" lengthAdjust="spacingAndGlyphs" >10</text>
<text x="1527.5" y="143.1" font-family="Liberation Sans" font-size="23.50" text-anchor="start" font-weight="bold" font-style="normal" textLength="66.7" lengthAdjust="spacingAndGlyphs" >First:</text>
<text x="1603.5" y="143.1" font-family="Liberation Sans" font-size="23.50" text-anchor="start" font-weight="bold" font-style="normal" textLength="143.8" lengthAdjust="spacingAndGlyphs" >2025-12-30</text>
<text x="1754.5" y="143.1" font-family="Liberation Sans" font-size="23.50" text-anchor="start" font-weight="bold" font-style="normal" textLength="112.1" lengthAdjust="spacingAndGlyphs" >00:21:45</text>
<text x="1527.5" y="169.7" font-family="Liberation Sans" font-size="23.50" text-anchor="start" font-weight="bold" font-style="normal" textLength="62.4" lengthAdjust="spacingAndGlyphs" >Last:</text>
<text x="1598.8" y="169.7" font-family="Liberation Sans" font-size="23.50" text-anchor="start" font-weight="bold" font-style="normal" textLength="143.8" lengthAdjust="spacingAndGlyphs" >2025-12-30</text>
<text x="1750.2" y="169.7" font-family="Liberation Sans" font-size="23.50" text-anchor="start" font-weight="bold" font-style="normal" textLength="111.7" lengthAdjust="spacingAndGlyphs" >23:36:45</text>
<text x="1527.5" y="196.3" font-family="Liberation Sans" font-size="23.50" text-anchor="start" font-weight="bold" font-style="normal" textLength="104.2" lengthAdjust="spacingAndGlyphs" >Method:</text>
<text x="1641.0" y="196.3" font-family="Liberation Sans" font-size="23.50" text-anchor="start" font-weight="bold" font-style="normal" textLength="226.2" lengthAdjust="spacingAndGlyphs" >Nearest-Neighbor</text>
<rect x="1567.5" y="258.6" width="398.9" height="315.6" fill="#97b6e1"/>
<polygon points="1669.6,258.6 1966.4,258.6 1966.4,306.2 1957.7,305.3 1950.7,303.0 1943.6,304.4 1936.6,306.2 1932.1,306.2 1929.5,311.5 1925.1,315.0 1917.1,317.7 1911.8,319.4 1908.3,324.7 1903.9,329.2 1901.2,336.2 1902.1,343.3 1903.9,350.3 1904.8,354.8 1902.1,361.0 1899.5,368.0 1898.6,378.6 1897.7,389.2 1897.7,399.8 1899.9,406.9 1903.4,415.4 1908.5,424.0 1913.6,430.8 1916.2,437.7 1920.5,443.7 1929.0,445.4 1934.2,449.7 1937.6,452.3 1944.5,450.5 1951.3,448.8 1958.2,446.3 1966.4,445.4 1966.4,498.5 1958.2,490.8 1951.3,484.8 1944.5,478.8 1937.6,475.7 1929.0,475.7 1922.2,479.7 1913.6,482.2 1905.1,479.7 1896.5,478.0 1886.2,472.0 1875.9,469.4 1872.5,467.7 1860.5,462.5 1855.4,459.1 1848.5,454.5 1840.0,452.3 1831.4,449.7 1826.3,444.5 1821.1,440.3 1812.6,436.0 1807.4,429.1 1805.7,424.0 1810.8,421.4 1808.3,418.8 1810.0,415.4 1810.8,410.3 1807.4,405.1 1805.7,400.0 1802.4,394.5 1795.3,387.4 1788.2,378.6 1781.2,371.5 1775.1,363.7 1768.9,359.0 1762.7,355.9 1765.0,351.3 1764.2,346.6 1759.6,342.0 1751.8,335.7 1748.7,329.5 1742.5,328.0 1736.3,321.8 1732.8,317.7 1727.7,309.6 1723.7,302.5 1720.7,295.4 1718.6,287.4 1717.6,283.3 1711.6,279.3 1707.5,278.3 1701.5,276.2 1697.4,274.7 1696.4,283.3 1699.4,290.4 1700.4,298.5 1705.5,304.5 1711.6,308.6 1716.6,313.6 1720.7,320.2 1725.4,329.5 1730.1,337.3 1734.7,342.0 1739.4,349.7 1743.3,355.9 1747.1,362.1 1748.7,366.8 1751.8,371.5 1755.7,374.6 1758.0,379.2 1761.9,385.4 1761.1,388.5 1754.9,391.6 1748.7,383.9 1740.9,377.7 1734.7,373.0 1730.1,368.4 1730.1,363.7 1731.6,357.5 1728.5,352.0 1722.3,346.6 1717.6,342.0 1713.0,342.0 1705.2,335.7 1699.0,331.9 1693.6,328.0 1689.7,322.5 1692.8,321.8 1693.6,324.1 1695.9,328.0 1700.6,329.5 1705.2,328.8 1707.5,324.9 1706.8,320.2 1703.5,316.7 1699.4,312.6 1693.4,307.6 1687.3,303.5 1685.3,297.5 1682.2,289.4 1678.2,281.3 1675.2,274.2 1672.1,268.1 1670.1,263.1 1669.6,258.6" fill="#d2b48c" />
<polyline points="1718.6,259.0 1710.6,260.1 1702.5,262.1 1699.0,264.0 1698.4,266.1 1694.4,272.2 1697.4,274.7" fill="none" stroke="#97b6e1" stroke-width="1.7" stroke-linejoin="round" stroke-linecap="round"/>
<polyline points="1755.0,259.0 1761.1,261.1 1765.0,260.5" fill="none" stroke="#97b6e1" stroke-width="1.7" stroke-linejoin="round" stroke-linecap="round"/>
<polyline points="1766.5,262.0 1769.2,264.1 1771.2,260.1 1772.0,259.0" fill="none" stroke="#97b6e1" stroke-width="1.7" stroke-linejoin="round" stroke-linecap="round"/>
<polyline points="1786.4,259.0 1787.4,263.1 1791.4,266.1 1793.5,273.2" fill="none" stroke="#97b6e1" stroke-width="1.7" stroke-linejoin="round" stroke-linecap="round"/>
<polyline points="1887.1,258.6 1899.5,267.4 1910.1,283.2 1917.1,295.6 1918.9,304.4 1925.1,313.3" fill="none" stroke="#97b6e1" stroke-width="1.7" stroke-linejoin="round" stroke-linecap="round"/>
<polyline points="1867.7,402.4 1876.5,407.7 1887.1,405.1 1897.7,400.7" fill="none" stroke="#97b6e1" stroke-width="1.7" stroke-linejoin="round" stroke-linecap="round"/>
<polyline points="1809.1,406.9 1816.0,406.9 1824.5,414.6 1831.4,416.3 1839.1,425.7" fill="none" stroke="#97b6e1" stroke-width="1.7" stroke-linejoin="round" stroke-linecap="round"/>
<polyline points="1958.0,446.5 1962.0,452.0 1965.0,456.0" fill="none" stroke="#97b6e1" stroke-width="1.7" stroke-linejoin="round" stroke-linecap="round"/>
<polyline points="1812.0,258.8 1830.0,259.5" fill="none" stroke="#97b6e1" stroke-width="1.7" stroke-linejoin="round" stroke-linecap="round"/>
<polyline points="1793.5,273.2 1799.5,280.3 1806.6,286.3 1813.7,291.4 1816.7,297.5 1817.7,302.5 1821.8,306.6 1827.8,309.6 1833.9,313.6 1838.0,309.6 1842.0,303.5 1845.0,301.5 1852.1,303.0 1858.2,306.6 1862.4,309.7 1869.5,322.1 1876.5,332.7 1881.8,346.8 1894.2,352.1 1904.8,354.8" fill="none" stroke="#97b6e1" stroke-width="1.7" stroke-linejoin="round"/>
<polyline points="1793.5,273.2 1799.5,280.3 1806.6,286.3 1813.7,291.4 1816.7,297.5 1817.7,302.5 1821.8,306.6 1827.8,309.6 1833.9,313.6 1838.0,309.6 1842.0,303.5 1845.0,301.5 1852.1,303.0 1858.2,306.6 1862.4,309.7 1869.5,322.1 1876.5,332.7 1881.8,346.8 1894.2,352.1 1904.8,354.8" fill="none" stroke="#000" stroke-width="1.5" stroke-dasharray="5,2.5" stroke-linejoin="round"/>
<polyline points="1671.1,265.1 1698.4,263.1" fill="none" stroke="#000" stroke-width="1.5" stroke-dasharray="5,2.5" stroke-linejoin="round"/>
<polyline points="1698.4,265.1 1743.9,282.3 1775.3,282.3 1775.8,277.2 1777.3,275.7 1793.5,275.7" fill="none" stroke="#000" stroke-width="1.5" stroke-dasharray="5,2.5" stroke-linejoin="round"/>
<polyline points="1964.5,482.0 1963.5,490.0 1964.5,497.0" fill="none" stroke="#000" stroke-width="1.5" stroke-dasharray="5,2.5" stroke-linejoin="round"/>
<polyline points="1766.2,258.6 1766.2,282.3" fill="none" stroke="#000" stroke-width="1.4" stroke-linejoin="round"/>
<polyline points="1836.0,258.6 1836.0,273.2 1793.5,273.2" fill="none" stroke="#000" stroke-width="1.4" stroke-linejoin="round"/>
<polyline points="1941.9,258.6 1942.5,266.0 1944.5,274.4 1947.1,286.8 1946.5,294.0 1945.4,300.9 1944.0,304.0" fill="none" stroke="#000" stroke-width="1.4" stroke-linejoin="round"/>
<polyline points="1966.4,306.2 1957.7,305.3 1950.7,303.0 1943.6,304.4 1936.6,306.2 1932.1,306.2 1929.5,311.5 1925.1,315.0 1917.1,317.7 1911.8,319.4 1908.3,324.7 1903.9,329.2 1901.2,336.2 1902.1,343.3 1903.9,350.3 1904.8,354.8 1902.1,361.0 1899.5,368.0 1898.6,378.6 1897.7,389.2 1897.7,399.8 1899.9,406.9 1903.4,415.4 1908.5,424.0 1913.6,430.8 1916.2,437.7 1920.5,443.7 1929.0,445.4 1934.2,449.7 1937.6,452.3 1944.5,450.5 1951.3,448.8 1958.2,446.3 1966.4,445.4" fill="none" stroke="#000" stroke-width="2.3" stroke-linejoin="round"/>
<polyline points="1966.4,498.5 1958.2,490.8 1951.3,484.8 1944.5,478.8 1937.6,475.7 1929.0,475.7 1922.2,479.7 1913.6,482.2 1905.1,479.7 1896.5,478.0 1886.2,472.0 1875.9,469.4 1872.5,467.7 1860.5,462.5 1855.4,459.1 1848.5,454.5 1840.0,452.3 1831.4,449.7 1826.3,444.5 1821.1,440.3 1812.6,436.0 1807.4,429.1 1805.7,424.0 1810.8,421.4 1808.3,418.8 1810.0,415.4 1810.8,410.3 1807.4,405.1 1805.7,400.0 1802.4,394.5 1795.3,387.4 1788.2,378.6 1781.2,371.5 1775.1,363.7 1768.9,359.0 1762.7,355.9 1765.0,351.3 1764.2,346.6 1759.6,342.0 1751.8,335.7 1748.7,329.5 1742.5,328.0 1736.3,321.8 1732.8,317.7 1727.7,309.6 1723.7,302.5 1720.7,295.4 1718.6,287.4 1717.6,283.3 1711.6,279.3 1707.5,278.3 1701.5,276.2 1697.4,274.7 1696.4,283.3 1699.4,290.4 1700.4,298.5 1705.5,304.5 1711.6,308.6 1716.6,313.6 1720.7,320.2 1725.4,329.5 1730.1,337.3 1734.7,342.0 1739.4,349.7 1743.3,355.9 1747.1,362.1 1748.7,366.8 1751.8,371.5 1755.7,374.6 1758.0,379.2 1761.9,385.4 1761.1,388.5 1754.9,391.6 1748.7,383.9 1740.9,377.7 1734.7,373.0 1730.1,368.4 1730.1,363.7 1731.6,357.5 1728.5,352.0 1722.3,346.6 1717.6,342.0 1713.0,342.0 1705.2,335.7 1699.0,331.9 1693.6,328.0 1689.7,322.5 1692.8,321.8 1693.6,324.1 1695.9,328.0 1700.6,329.5 1705.2,328.8 1707.5,324.9 1706.8,320.2 1703.5,316.7 1699.4,312.6 1693.4,307.6 1687.3,303.5 1685.3,297.5 1682.2,289.4 1678.2,281.3 1675.2,274.2 1672.1,268.1 1670.1,263.1 1669.6,258.6" fill="none" stroke="#000" stroke-width="2.3" stroke-linejoin="round"/>
<polyline points="1931.0,307.5 1926.0,313.0 1918.0,316.5 1911.0,319.5 1907.5,325.0 1903.5,330.0 1901.5,336.0 1902.5,344.0 1904.0,351.0" fill="none" stroke="#000" stroke-width="3.6" stroke-linejoin="round" stroke-linecap="round"/>
<polyline points="1902.0,360.0 1900.0,368.0 1899.0,378.0 1898.5,390.0 1898.5,398.0" fill="none" stroke="#000" stroke-width="2.8" stroke-linejoin="round" stroke-linecap="round"/>
<circle cx="1932.5" cy="305.0" r="2.3" fill="#000"/>
<circle cx="1911.5" cy="318.5" r="2.3" fill="#000"/>
<circle cx="1905.5" cy="326.0" r="2.3" fill="#000"/>
<circle cx="1902.0" cy="336.0" r="2.3" fill="#000"/>
<circle cx="1964.0" cy="302.5" r="2.3" fill="#000"/>
<circle cx="1900.5" cy="407.5" r="2.3" fill="#000"/>
<circle cx="1902.5" cy="411.0" r="2.3" fill="#000"/>
<polyline points="1736.5,322.0 1742.5,328.0 1748.7,329.5 1751.8,335.7 1759.6,342.0 1764.2,346.6" fill="none" stroke="#000" stroke-width="3" stroke-linejoin="round" stroke-linecap="round"/>
<polyline points="1729.0,368.0 1731.0,371.5 1736.0,375.0" fill="none" stroke="#000" stroke-width="3" stroke-linejoin="round" stroke-linecap="round"/>
<ellipse cx="1657.3" cy="313.2" rx="1.3" ry="1.8" transform="rotate(0 1657.3 313.2)" fill="#000"/>
<ellipse cx="1699.0" cy="449.3" rx="1.2" ry="1.0" transform="rotate(0 1699.0 449.3)" fill="#000"/>
<ellipse cx="1743.3" cy="443.2" rx="1.5" ry="1.2" transform="rotate(0 1743.3 443.2)" fill="#000"/>
<ellipse cx="1745.2" cy="437.4" rx="0.9" ry="0.8" transform="rotate(0 1745.2 437.4)" fill="#000"/>
<ellipse cx="1764.1" cy="546.5" rx="0.7" ry="0.7" transform="rotate(0 1764.1 546.5)" fill="#000"/>
<ellipse cx="1795.8" cy="409.8" rx="1.4" ry="3.2" transform="rotate(-45 1795.8 409.8)" fill="#000"/>
<ellipse cx="1715.5" cy="310.5" rx="2.0" ry="4.5" transform="rotate(-35 1715.5 310.5)" fill="#000"/>
<ellipse cx="1727.0" cy="314.0" rx="1.8" ry="3.5" transform="rotate(-30 1727.0 314.0)" fill="#000"/>
<ellipse cx="1655.4" cy="260.0" rx="1.2" ry="0.9" transform="rotate(0 1655.4 260.0)" fill="#000"/>
<ellipse cx="1690.3" cy="321.5" rx="1.6" ry="1.6" transform="rotate(0 1690.3 321.5)" fill="#000"/>
<line x1="1567.5" y1="258.6" x2="1966.4" y2="258.6" stroke="#cfcfcf" stroke-width="1"/>
<line x1="1567.5" y1="258.6" x2="1670.0" y2="258.6" stroke="#000" stroke-width="1.5"/>
<polyline points="1567.5,258.6 1567.5,574.2 1966.4,574.2 1966.4,258.6" fill="none" stroke="#000" stroke-width="1.3"/>
<line x1="1567.6" y1="574.2" x2="1567.6" y2="577.2" stroke="#000" stroke-width="1.6"/>
<line x1="1567.6" y1="258.6" x2="1567.6" y2="255.6" stroke="#000" stroke-width="1.6"/>
<line x1="1579.3" y1="574.2" x2="1579.3" y2="582.8" stroke="#000" stroke-width="2.9"/>
<line x1="1579.3" y1="258.6" x2="1579.3" y2="250.0" stroke="#000" stroke-width="2.9"/>
<line x1="1591.0" y1="574.2" x2="1591.0" y2="577.2" stroke="#000" stroke-width="1.6"/>
<line x1="1591.0" y1="258.6" x2="1591.0" y2="255.6" stroke="#000" stroke-width="1.6"/>
<line x1="1602.8" y1="574.2" x2="1602.8" y2="577.2" stroke="#000" stroke-width="1.6"/>
<line x1="1602.8" y1="258.6" x2="1602.8" y2="255.6" stroke="#000" stroke-width="1.6"/>
<line x1="1614.5" y1="574.2" x2="1614.5" y2="577.2" stroke="#000" stroke-width="1.6"/>
<line x1="1614.5" y1="258.6" x2="1614.5" y2="255.6" stroke="#000" stroke-width="1.6"/>
<line x1="1626.3" y1="574.2" x2="1626.3" y2="577.2" stroke="#000" stroke-width="1.6"/>
<line x1="1626.3" y1="258.6" x2="1626.3" y2="255.6" stroke="#000" stroke-width="1.6"/>
<line x1="1638.0" y1="574.2" x2="1638.0" y2="582.8" stroke="#000" stroke-width="2.9"/>
<line x1="1638.0" y1="258.6" x2="1638.0" y2="250.0" stroke="#000" stroke-width="2.9"/>
<line x1="1649.7" y1="574.2" x2="1649.7" y2="577.2" stroke="#000" stroke-width="1.6"/>
<line x1="1649.7" y1="258.6" x2="1649.7" y2="255.6" stroke="#000" stroke-width="1.6"/>
<line x1="1661.5" y1="574.2" x2="1661.5" y2="577.2" stroke="#000" stroke-width="1.6"/>
<line x1="1661.5" y1="258.6" x2="1661.5" y2="255.6" stroke="#000" stroke-width="1.6"/>
<line x1="1673.2" y1="574.2" x2="1673.2" y2="577.2" stroke="#000" stroke-width="1.6"/>
<line x1="1673.2" y1="258.6" x2="1673.2" y2="255.6" stroke="#000" stroke-width="1.6"/>
<line x1="1685.0" y1="574.2" x2="1685.0" y2="577.2" stroke="#000" stroke-width="1.6"/>
<line x1="1685.0" y1="258.6" x2="1685.0" y2="255.6" stroke="#000" stroke-width="1.6"/>
<line x1="1696.7" y1="574.2" x2="1696.7" y2="582.8" stroke="#000" stroke-width="2.9"/>
<line x1="1696.7" y1="258.6" x2="1696.7" y2="250.0" stroke="#000" stroke-width="2.9"/>
<line x1="1708.4" y1="574.2" x2="1708.4" y2="577.2" stroke="#000" stroke-width="1.6"/>
<line x1="1708.4" y1="258.6" x2="1708.4" y2="255.6" stroke="#000" stroke-width="1.6"/>
<line x1="1720.2" y1="574.2" x2="1720.2" y2="577.2" stroke="#000" stroke-width="1.6"/>
<line x1="1720.2" y1="258.6" x2="1720.2" y2="255.6" stroke="#000" stroke-width="1.6"/>
<line x1="1731.9" y1="574.2" x2="1731.9" y2="577.2" stroke="#000" stroke-width="1.6"/>
<line x1="1731.9" y1="258.6" x2="1731.9" y2="255.6" stroke="#000" stroke-width="1.6"/>
<line x1="1743.7" y1="574.2" x2="1743.7" y2="577.2" stroke="#000" stroke-width="1.6"/>
<line x1="1743.7" y1="258.6" x2="1743.7" y2="255.6" stroke="#000" stroke-width="1.6"/>
<line x1="1755.4" y1="574.2" x2="1755.4" y2="582.8" stroke="#000" stroke-width="2.9"/>
<line x1="1755.4" y1="258.6" x2="1755.4" y2="250.0" stroke="#000" stroke-width="2.9"/>
<line x1="1767.1" y1="574.2" x2="1767.1" y2="577.2" stroke="#000" stroke-width="1.6"/>
<line x1="1767.1" y1="258.6" x2="1767.1" y2="255.6" stroke="#000" stroke-width="1.6"/>
<line x1="1778.9" y1="574.2" x2="1778.9" y2="577.2" stroke="#000" stroke-width="1.6"/>
<line x1="1778.9" y1="258.6" x2="1778.9" y2="255.6" stroke="#000" stroke-width="1.6"/>
<line x1="1790.6" y1="574.2" x2="1790.6" y2="577.2" stroke="#000" stroke-width="1.6"/>
<line x1="1790.6" y1="258.6" x2="1790.6" y2="255.6" stroke="#000" stroke-width="1.6"/>
<line x1="1802.4" y1="574.2" x2="1802.4" y2="577.2" stroke="#000" stroke-width="1.6"/>
<line x1="1802.4" y1="258.6" x2="1802.4" y2="255.6" stroke="#000" stroke-width="1.6"/>
<line x1="1814.1" y1="574.2" x2="1814.1" y2="582.8" stroke="#000" stroke-width="2.9"/>
<line x1="1814.1" y1="258.6" x2="1814.1" y2="250.0" stroke="#000" stroke-width="2.9"/>
<line x1="1825.8" y1="574.2" x2="1825.8" y2="577.2" stroke="#000" stroke-width="1.6"/>
<line x1="1825.8" y1="258.6" x2="1825.8" y2="255.6" stroke="#000" stroke-width="1.6"/>
<line x1="1837.6" y1="574.2" x2="1837.6" y2="577.2" stroke="#000" stroke-width="1.6"/>
<line x1="1837.6" y1="258.6" x2="1837.6" y2="255.6" stroke="#000" stroke-width="1.6"/>
<line x1="1849.3" y1="574.2" x2="1849.3" y2="577.2" stroke="#000" stroke-width="1.6"/>
<line x1="1849.3" y1="258.6" x2="1849.3" y2="255.6" stroke="#000" stroke-width="1.6"/>
<line x1="1861.1" y1="574.2" x2="1861.1" y2="577.2" stroke="#000" stroke-width="1.6"/>
<line x1="1861.1" y1="258.6" x2="1861.1" y2="255.6" stroke="#000" stroke-width="1.6"/>
<line x1="1872.8" y1="574.2" x2="1872.8" y2="582.8" stroke="#000" stroke-width="2.9"/>
<line x1="1872.8" y1="258.6" x2="1872.8" y2="250.0" stroke="#000" stroke-width="2.9"/>
<line x1="1884.5" y1="574.2" x2="1884.5" y2="577.2" stroke="#000" stroke-width="1.6"/>
<line x1="1884.5" y1="258.6" x2="1884.5" y2="255.6" stroke="#000" stroke-width="1.6"/>
<line x1="1896.3" y1="574.2" x2="1896.3" y2="577.2" stroke="#000" stroke-width="1.6"/>
<line x1="1896.3" y1="258.6" x2="1896.3" y2="255.6" stroke="#000" stroke-width="1.6"/>
<line x1="1908.0" y1="574.2" x2="1908.0" y2="577.2" stroke="#000" stroke-width="1.6"/>
<line x1="1908.0" y1="258.6" x2="1908.0" y2="255.6" stroke="#000" stroke-width="1.6"/>
<line x1="1919.8" y1="574.2" x2="1919.8" y2="577.2" stroke="#000" stroke-width="1.6"/>
<line x1="1919.8" y1="258.6" x2="1919.8" y2="255.6" stroke="#000" stroke-width="1.6"/>
<line x1="1931.5" y1="574.2" x2="1931.5" y2="582.8" stroke="#000" stroke-width="2.9"/>
<line x1="1931.5" y1="258.6" x2="1931.5" y2="250.0" stroke="#000" stroke-width="2.9"/>
<line x1="1943.2" y1="574.2" x2="1943.2" y2="577.2" stroke="#000" stroke-width="1.6"/>
<line x1="1943.2" y1="258.6" x2="1943.2" y2="255.6" stroke="#000" stroke-width="1.6"/>
<line x1="1955.0" y1="574.2" x2="1955.0" y2="577.2" stroke="#000" stroke-width="1.6"/>
<line x1="1955.0" y1="258.6" x2="1955.0" y2="255.6" stroke="#000" stroke-width="1.6"/>
<line x1="1966.7" y1="574.2" x2="1966.7" y2="577.2" stroke="#000" stroke-width="1.6"/>
<line x1="1966.7" y1="258.6" x2="1966.7" y2="255.6" stroke="#000" stroke-width="1.6"/>
<line x1="1567.5" y1="574.0" x2="1564.5" y2="574.0" stroke="#000" stroke-width="1.6"/>
<line x1="1966.4" y1="574.0" x2="1969.4" y2="574.0" stroke="#000" stroke-width="1.6"/>
<line x1="1567.5" y1="562.2" x2="1564.5" y2="562.2" stroke="#000" stroke-width="1.6"/>
<line x1="1966.4" y1="562.2" x2="1969.4" y2="562.2" stroke="#000" stroke-width="1.6"/>
<line x1="1567.5" y1="550.4" x2="1558.9" y2="550.4" stroke="#000" stroke-width="2.9"/>
<line x1="1966.4" y1="550.4" x2="1975.0" y2="550.4" stroke="#000" stroke-width="2.9"/>
<line x1="1567.5" y1="538.5" x2="1564.5" y2="538.5" stroke="#000" stroke-width="1.6"/>
<line x1="1966.4" y1="538.5" x2="1969.4" y2="538.5" stroke="#000" stroke-width="1.6"/>
<line x1="1567.5" y1="526.6" x2="1564.5" y2="526.6" stroke="#000" stroke-width="1.6"/>
<line x1="1966.4" y1="526.6" x2="1969.4" y2="526.6" stroke="#000" stroke-width="1.6"/>
<line x1="1567.5" y1="514.7" x2="1564.5" y2="514.7" stroke="#000" stroke-width="1.6"/>
<line x1="1966.4" y1="514.7" x2="1969.4" y2="514.7" stroke="#000" stroke-width="1.6"/>
<line x1="1567.5" y1="502.7" x2="1564.5" y2="502.7" stroke="#000" stroke-width="1.6"/>
<line x1="1966.4" y1="502.7" x2="1969.4" y2="502.7" stroke="#000" stroke-width="1.6"/>
<line x1="1567.5" y1="490.7" x2="1558.9" y2="490.7" stroke="#000" stroke-width="2.9"/>
<line x1="1966.4" y1="490.7" x2="1975.0" y2="490.7" stroke="#000" stroke-width="2.9"/>
<line x1="1567.5" y1="478.6" x2="1564.5" y2="478.6" stroke="#000" stroke-width="1.6"/>
<line x1="1966.4" y1="478.6" x2="1969.4" y2="478.6" stroke="#000" stroke-width="1.6"/>
<line x1="1567.5" y1="466.4" x2="1564.5" y2="466.4" stroke="#000" stroke-width="1.6"/>
<line x1="1966.4" y1="466.4" x2="1969.4" y2="466.4" stroke="#000" stroke-width="1.6"/>
<line x1="1567.5" y1="454.2" x2="1564.5" y2="454.2" stroke="#000" stroke-width="1.6"/>
<line x1="1966.4" y1="454.2" x2="1969.4" y2="454.2" stroke="#000" stroke-width="1.6"/>
<line x1="1567.5" y1="441.9" x2="1564.5" y2="441.9" stroke="#000" stroke-width="1.6"/>
<line x1="1966.4" y1="441.9" x2="1969.4" y2="441.9" stroke="#000" stroke-width="1.6"/>
<line x1="1567.5" y1="429.5" x2="1558.9" y2="429.5" stroke="#000" stroke-width="2.9"/>
<line x1="1966.4" y1="429.5" x2="1975.0" y2="429.5" stroke="#000" stroke-width="2.9"/>
<line x1="1567.5" y1="417.1" x2="1564.5" y2="417.1" stroke="#000" stroke-width="1.6"/>
<line x1="1966.4" y1="417.1" x2="1969.4" y2="417.1" stroke="#000" stroke-width="1.6"/>
<line x1="1567.5" y1="404.5" x2="1564.5" y2="404.5" stroke="#000" stroke-width="1.6"/>
<line x1="1966.4" y1="404.5" x2="1969.4" y2="404.5" stroke="#000" stroke-width="1.6"/>
<line x1="1567.5" y1="391.9" x2="1564.5" y2="391.9" stroke="#000" stroke-width="1.6"/>
<line x1="1966.4" y1="391.9" x2="1969.4" y2="391.9" stroke="#000" stroke-width="1.6"/>
<line x1="1567.5" y1="379.2" x2="1564.5" y2="379.2" stroke="#000" stroke-width="1.6"/>
<line x1="1966.4" y1="379.2" x2="1969.4" y2="379.2" stroke="#000" stroke-width="1.6"/>
<line x1="1567.5" y1="366.4" x2="1558.9" y2="366.4" stroke="#000" stroke-width="2.9"/>
<line x1="1966.4" y1="366.4" x2="1975.0" y2="366.4" stroke="#000" stroke-width="2.9"/>
<line x1="1567.5" y1="353.5" x2="1564.5" y2="353.5" stroke="#000" stroke-width="1.6"/>
<line x1="1966.4" y1="353.5" x2="1969.4" y2="353.5" stroke="#000" stroke-width="1.6"/>
<line x1="1567.5" y1="340.4" x2="1564.5" y2="340.4" stroke="#000" stroke-width="1.6"/>
<line x1="1966.4" y1="340.4" x2="1969.4" y2="340.4" stroke="#000" stroke-width="1.6"/>
<line x1="1567.5" y1="327.3" x2="1564.5" y2="327.3" stroke="#000" stroke-width="1.6"/>
<line x1="1966.4" y1="327.3" x2="1969.4" y2="327.3" stroke="#000" stroke-width="1.6"/>
<line x1="1567.5" y1="314.0" x2="1564.5" y2="314.0" stroke="#000" stroke-width="1.6"/>
<line x1="1966.4" y1="314.0" x2="1969.4" y2="314.0" stroke="#000" stroke-width="1.6"/>
<line x1="1567.5" y1="300.6" x2="1558.9" y2="300.6" stroke="#000" stroke-width="2.9"/>
<line x1="1966.4" y1="300.6" x2="1975.0" y2="300.6" stroke="#000" stroke-width="2.9"/>
<line x1="1567.5" y1="287.1" x2="1564.5" y2="287.1" stroke="#000" stroke-width="1.6"/>
<line x1="1966.4" y1="287.1" x2="1969.4" y2="287.1" stroke="#000" stroke-width="1.6"/>
<line x1="1567.5" y1="273.4" x2="1564.5" y2="273.4" stroke="#000" stroke-width="1.6"/>
<line x1="1966.4" y1="273.4" x2="1969.4" y2="273.4" stroke="#000" stroke-width="1.6"/>
<line x1="1567.5" y1="259.6" x2="1564.5" y2="259.6" stroke="#000" stroke-width="1.6"/>
<line x1="1966.4" y1="259.6" x2="1969.4" y2="259.6" stroke="#000" stroke-width="1.6"/>
<text x="1550.5" y="559.0" font-family="Liberation Sans" font-size="23.50" text-anchor="end" font-weight="normal" font-style="normal" textLength="52.5" lengthAdjust="spacingAndGlyphs" >10°N</text>
<text x="1550.5" y="499.3" font-family="Liberation Sans" font-size="23.50" text-anchor="end" font-weight="normal" font-style="normal" textLength="52.5" lengthAdjust="spacingAndGlyphs" >15°N</text>
<text x="1550.5" y="438.1" font-family="Liberation Sans" font-size="23.50" text-anchor="end" font-weight="normal" font-style="normal" textLength="52.5" lengthAdjust="spacingAndGlyphs" >20°N</text>
<text x="1550.5" y="375.0" font-family="Liberation Sans" font-size="23.50" text-anchor="end" font-weight="normal" font-style="normal" textLength="52.5" lengthAdjust="spacingAndGlyphs" >25°N</text>
<text x="1550.5" y="309.2" font-family="Liberation Sans" font-size="23.50" text-anchor="end" font-weight="normal" font-style="normal" textLength="52.5" lengthAdjust="spacingAndGlyphs" >30°N</text>
<text x="0" y="0" font-family="Liberation Sans" font-size="23.5" text-anchor="middle" textLength="75.0" lengthAdjust="spacingAndGlyphs" transform="translate(1577.4,624.0) rotate(-45) translate(0,8.4)">125°W</text>
<text x="0" y="0" font-family="Liberation Sans" font-size="23.5" text-anchor="middle" textLength="75.0" lengthAdjust="spacingAndGlyphs" transform="translate(1636.1,624.0) rotate(-45) translate(0,8.4)">120°W</text>
<text x="0" y="0" font-family="Liberation Sans" font-size="23.5" text-anchor="middle" textLength="75.0" lengthAdjust="spacingAndGlyphs" transform="translate(1694.8,624.0) rotate(-45) translate(0,8.4)">115°W</text>
<text x="0" y="0" font-family="Liberation Sans" font-size="23.5" text-anchor="middle" textLength="75.0" lengthAdjust="spacingAndGlyphs" transform="translate(1753.5,624.0) rotate(-45) translate(0,8.4)">110°W</text>
<text x="0" y="0" font-family="Liberation Sans" font-size="23.5" text-anchor="middle" textLength="75.0" lengthAdjust="spacingAndGlyphs" transform="translate(1812.2,624.0) rotate(-45) translate(0,8.4)">105°W</text>
<text x="0" y="0" font-family="Liberation Sans" font-size="23.5" text-anchor="middle" textLength="75.0" lengthAdjust="spacingAndGlyphs" transform="translate(1870.9,624.0) rotate(-45) translate(0,8.4)">100°W</text>
<text x="0" y="0" font-family="Liberation Sans" font-size="23.5" text-anchor="middle" textLength="62.0" lengthAdjust="spacingAndGlyphs" transform="translate(1929.6,619.4) rotate(-45) translate(0,8.4)">95°W</text>
<rect x="1684.3" y="658.6" width="164.5" height="143" rx="4.5" ry="4.5" fill="#ffffff" fill-opacity="0.8" stroke="#cccccc" stroke-width="1.4"/>
<line x1="1692" y1="677.3" x2="1739.9" y2="677.3" stroke="#0000ff" stroke-width="2.5"/>
<circle cx="1716.2" cy="677.3" r="5.8" fill="#0000ff"/>
<text x="1758.0" y="685.9" font-family="Liberation Sans" font-size="24.00" text-anchor="start" font-weight="normal" font-style="normal" textLength="67.0" lengthAdjust="spacingAndGlyphs" >sp040</text>
<line x1="1692" y1="712.5" x2="1739.9" y2="712.5" stroke="#ff0000" stroke-width="2.5"/>
<circle cx="1716.2" cy="712.5" r="5.8" fill="#ff0000"/>
<text x="1758.0" y="721.1" font-family="Liberation Sans" font-size="24.00" text-anchor="start" font-weight="normal" font-style="normal" textLength="70.5" lengthAdjust="spacingAndGlyphs" >RTOFS</text>
<line x1="1692" y1="746.5" x2="1739.9" y2="746.5" stroke="#008000" stroke-width="2.5"/>
<circle cx="1716.2" cy="746.5" r="5.8" fill="#008000"/>
<text x="1758.0" y="755.1" font-family="Liberation Sans" font-size="24.00" text-anchor="start" font-weight="normal" font-style="normal" textLength="55.0" lengthAdjust="spacingAndGlyphs" >ESPC</text>
<line x1="1692" y1="780.4" x2="1739.9" y2="780.4" stroke="#ff00ff" stroke-width="2.5"/>
<circle cx="1716.2" cy="780.4" r="5.8" fill="#ff00ff"/>
<text x="1758.0" y="789.0" font-family="Liberation Sans" font-size="24.00" text-anchor="start" font-weight="normal" font-style="normal" textLength="80.5" lengthAdjust="spacingAndGlyphs" >CMEMS</text>
</svg></body></html>
